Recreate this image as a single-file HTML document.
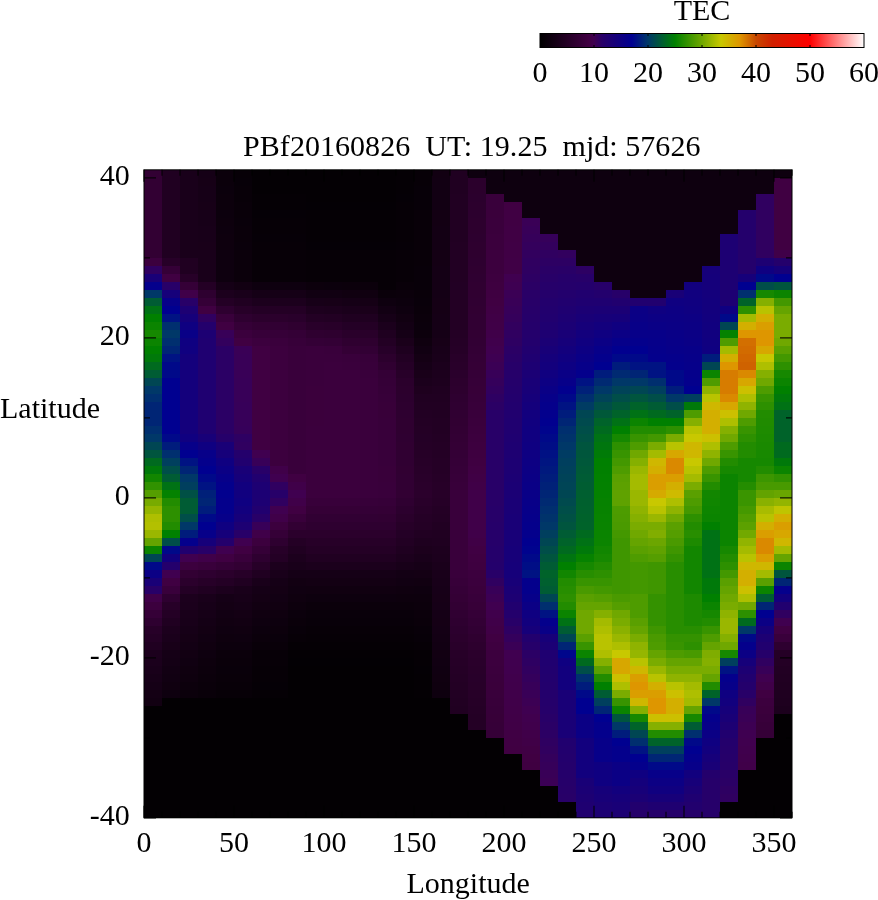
<!DOCTYPE html><html><head><meta charset="utf-8"><title>TEC map</title><style>html,body{margin:0;padding:0;background:#fff}svg{display:block}</style></head><body><svg width="878" height="900" viewBox="0 0 878 900"><defs><linearGradient id="cb" x1="0" x2="1" y1="0" y2="0"><stop offset="0.0000" stop-color="#000000"/><stop offset="0.1500" stop-color="#400042"/><stop offset="0.1667" stop-color="#400050"/><stop offset="0.1917" stop-color="#280068"/><stop offset="0.2833" stop-color="#000090"/><stop offset="0.3333" stop-color="#003868"/><stop offset="0.4167" stop-color="#008000"/><stop offset="0.5000" stop-color="#70a800"/><stop offset="0.5583" stop-color="#c8c800"/><stop offset="0.6167" stop-color="#de9600"/><stop offset="0.6667" stop-color="#c84800"/><stop offset="0.7167" stop-color="#d02000"/><stop offset="0.8333" stop-color="#ff0000"/><stop offset="1.0000" stop-color="#ffffff"/></linearGradient></defs><rect width="878" height="900" fill="#fff"/><g shape-rendering="crispEdges"><rect x="144" y="170" width="18" height="88" fill="#320033"/><rect x="144" y="258" width="18" height="8" fill="#3c003e"/><rect x="144" y="266" width="18" height="8" fill="#300060"/><rect x="144" y="274" width="18" height="8" fill="#190077"/><rect x="144" y="282" width="18" height="8" fill="#04008c"/><rect x="144" y="290" width="18" height="8" fill="#003868"/><rect x="144" y="298" width="18" height="8" fill="#005c34"/><rect x="144" y="306" width="18" height="8" fill="#007215"/><rect x="144" y="314" width="18" height="8" fill="#008000"/><rect x="144" y="322" width="18" height="8" fill="#0b8400"/><rect x="144" y="330" width="18" height="8" fill="#168800"/><rect x="144" y="338" width="18" height="8" fill="#0b8400"/><rect x="144" y="346" width="18" height="8" fill="#008000"/><rect x="144" y="354" width="18" height="8" fill="#00790a"/><rect x="144" y="362" width="18" height="8" fill="#006a1f"/><rect x="144" y="370" width="18" height="8" fill="#005c34"/><rect x="144" y="378" width="18" height="8" fill="#004653"/><rect x="144" y="386" width="18" height="8" fill="#003868"/><rect x="144" y="394" width="18" height="8" fill="#002f6f"/><rect x="144" y="402" width="18" height="24" fill="#002575"/><rect x="144" y="426" width="18" height="8" fill="#002f6f"/><rect x="144" y="434" width="18" height="8" fill="#003868"/><rect x="144" y="442" width="18" height="8" fill="#004653"/><rect x="144" y="450" width="18" height="8" fill="#00553e"/><rect x="144" y="458" width="18" height="8" fill="#006a1f"/><rect x="144" y="466" width="18" height="8" fill="#00790a"/><rect x="144" y="474" width="18" height="8" fill="#128600"/><rect x="144" y="482" width="18" height="8" fill="#319200"/><rect x="144" y="490" width="18" height="8" fill="#559e00"/><rect x="144" y="498" width="18" height="8" fill="#78ab00"/><rect x="144" y="506" width="18" height="8" fill="#95b600"/><rect x="144" y="514" width="18" height="8" fill="#aebf00"/><rect x="144" y="522" width="18" height="8" fill="#b3c000"/><rect x="144" y="530" width="18" height="8" fill="#9ab700"/><rect x="144" y="538" width="18" height="8" fill="#65a400"/><rect x="144" y="546" width="18" height="8" fill="#0b8400"/><rect x="144" y="554" width="18" height="8" fill="#004653"/><rect x="144" y="562" width="18" height="8" fill="#000989"/><rect x="144" y="570" width="18" height="8" fill="#0b0085"/><rect x="144" y="578" width="18" height="8" fill="#190077"/><rect x="144" y="586" width="18" height="8" fill="#280068"/><rect x="144" y="594" width="18" height="8" fill="#400049"/><rect x="144" y="602" width="18" height="8" fill="#3c003e"/><rect x="144" y="610" width="18" height="8" fill="#350037"/><rect x="144" y="618" width="18" height="8" fill="#2e0030"/><rect x="144" y="626" width="18" height="8" fill="#270028"/><rect x="144" y="634" width="18" height="8" fill="#240025"/><rect x="144" y="642" width="18" height="8" fill="#200021"/><rect x="144" y="650" width="18" height="8" fill="#1c001d"/><rect x="144" y="658" width="18" height="8" fill="#1b001c"/><rect x="144" y="666" width="18" height="8" fill="#19001a"/><rect x="144" y="674" width="18" height="8" fill="#170018"/><rect x="144" y="682" width="18" height="8" fill="#150016"/><rect x="144" y="690" width="18" height="8" fill="#140014"/><rect x="144" y="698" width="18" height="8" fill="#120012"/><rect x="144" y="706" width="18" height="112" fill="#030003"/><rect x="162" y="170" width="18" height="88" fill="#200021"/><rect x="162" y="258" width="18" height="8" fill="#270028"/><rect x="162" y="266" width="18" height="8" fill="#350037"/><rect x="162" y="274" width="18" height="8" fill="#400042"/><rect x="162" y="282" width="18" height="8" fill="#280068"/><rect x="162" y="290" width="18" height="8" fill="#16007a"/><rect x="162" y="298" width="18" height="8" fill="#070089"/><rect x="162" y="306" width="18" height="8" fill="#000090"/><rect x="162" y="314" width="18" height="8" fill="#001383"/><rect x="162" y="322" width="18" height="8" fill="#002f6f"/><rect x="162" y="330" width="18" height="8" fill="#003868"/><rect x="162" y="338" width="18" height="8" fill="#002f6f"/><rect x="162" y="346" width="18" height="8" fill="#002575"/><rect x="162" y="354" width="18" height="8" fill="#001383"/><rect x="162" y="362" width="18" height="16" fill="#000989"/><rect x="162" y="378" width="18" height="56" fill="#000090"/><rect x="162" y="434" width="18" height="8" fill="#000989"/><rect x="162" y="442" width="18" height="8" fill="#001c7c"/><rect x="162" y="450" width="18" height="8" fill="#002f6f"/><rect x="162" y="458" width="18" height="8" fill="#003f5e"/><rect x="162" y="466" width="18" height="8" fill="#004e49"/><rect x="162" y="474" width="18" height="8" fill="#005c34"/><rect x="162" y="482" width="18" height="8" fill="#007215"/><rect x="162" y="490" width="18" height="8" fill="#048200"/><rect x="162" y="498" width="18" height="8" fill="#228c00"/><rect x="162" y="506" width="18" height="16" fill="#2d9000"/><rect x="162" y="522" width="18" height="8" fill="#228c00"/><rect x="162" y="530" width="18" height="8" fill="#008000"/><rect x="162" y="538" width="18" height="8" fill="#004e49"/><rect x="162" y="546" width="18" height="8" fill="#000989"/><rect x="162" y="554" width="18" height="8" fill="#12007e"/><rect x="162" y="562" width="18" height="8" fill="#24006c"/><rect x="162" y="570" width="18" height="8" fill="#400050"/><rect x="162" y="578" width="18" height="8" fill="#400042"/><rect x="162" y="586" width="18" height="8" fill="#39003b"/><rect x="162" y="594" width="18" height="8" fill="#2e0030"/><rect x="162" y="602" width="18" height="8" fill="#270028"/><rect x="162" y="610" width="18" height="8" fill="#240025"/><rect x="162" y="618" width="18" height="8" fill="#200021"/><rect x="162" y="626" width="18" height="8" fill="#1c001d"/><rect x="162" y="634" width="18" height="8" fill="#1a001b"/><rect x="162" y="642" width="18" height="8" fill="#180018"/><rect x="162" y="650" width="18" height="8" fill="#150016"/><rect x="162" y="658" width="18" height="8" fill="#140015"/><rect x="162" y="666" width="18" height="8" fill="#120013"/><rect x="162" y="674" width="18" height="8" fill="#110012"/><rect x="162" y="682" width="18" height="8" fill="#100010"/><rect x="162" y="690" width="18" height="8" fill="#0e000f"/><rect x="162" y="698" width="18" height="120" fill="#030003"/><rect x="180" y="170" width="18" height="88" fill="#19001a"/><rect x="180" y="258" width="18" height="16" fill="#200021"/><rect x="180" y="274" width="18" height="8" fill="#270028"/><rect x="180" y="282" width="18" height="8" fill="#350037"/><rect x="180" y="290" width="18" height="8" fill="#400049"/><rect x="180" y="298" width="18" height="8" fill="#280068"/><rect x="180" y="306" width="18" height="8" fill="#1d0073"/><rect x="180" y="314" width="18" height="8" fill="#16007a"/><rect x="180" y="322" width="18" height="8" fill="#0f0081"/><rect x="180" y="330" width="18" height="8" fill="#090087"/><rect x="180" y="338" width="18" height="8" fill="#0f0081"/><rect x="180" y="346" width="18" height="8" fill="#100080"/><rect x="180" y="354" width="18" height="80" fill="#14007c"/><rect x="180" y="434" width="18" height="8" fill="#100080"/><rect x="180" y="442" width="18" height="8" fill="#070089"/><rect x="180" y="450" width="18" height="8" fill="#000090"/><rect x="180" y="458" width="18" height="8" fill="#001383"/><rect x="180" y="466" width="18" height="8" fill="#002575"/><rect x="180" y="474" width="18" height="8" fill="#003868"/><rect x="180" y="482" width="18" height="8" fill="#003f5e"/><rect x="180" y="490" width="18" height="8" fill="#005045"/><rect x="180" y="498" width="18" height="16" fill="#005c34"/><rect x="180" y="514" width="18" height="8" fill="#004e49"/><rect x="180" y="522" width="18" height="8" fill="#003868"/><rect x="180" y="530" width="18" height="8" fill="#001c7c"/><rect x="180" y="538" width="18" height="8" fill="#04008c"/><rect x="180" y="546" width="18" height="8" fill="#21006f"/><rect x="180" y="554" width="18" height="8" fill="#400050"/><rect x="180" y="562" width="18" height="8" fill="#3c003e"/><rect x="180" y="570" width="18" height="8" fill="#320033"/><rect x="180" y="578" width="18" height="8" fill="#2b002c"/><rect x="180" y="586" width="18" height="8" fill="#240025"/><rect x="180" y="594" width="18" height="8" fill="#1c001d"/><rect x="180" y="602" width="18" height="8" fill="#1b001c"/><rect x="180" y="610" width="18" height="8" fill="#19001a"/><rect x="180" y="618" width="18" height="8" fill="#180019"/><rect x="180" y="626" width="18" height="8" fill="#160017"/><rect x="180" y="634" width="18" height="8" fill="#150015"/><rect x="180" y="642" width="18" height="8" fill="#130014"/><rect x="180" y="650" width="18" height="8" fill="#120012"/><rect x="180" y="658" width="18" height="8" fill="#100011"/><rect x="180" y="666" width="18" height="8" fill="#0f000f"/><rect x="180" y="674" width="18" height="8" fill="#0e000e"/><rect x="180" y="682" width="18" height="8" fill="#0c000c"/><rect x="180" y="690" width="18" height="8" fill="#0b000b"/><rect x="180" y="698" width="18" height="120" fill="#030003"/><rect x="198" y="170" width="18" height="8" fill="#150016"/><rect x="198" y="178" width="18" height="8" fill="#160016"/><rect x="198" y="186" width="18" height="16" fill="#160017"/><rect x="198" y="202" width="18" height="8" fill="#170017"/><rect x="198" y="210" width="18" height="16" fill="#170018"/><rect x="198" y="226" width="18" height="16" fill="#180019"/><rect x="198" y="242" width="18" height="8" fill="#190019"/><rect x="198" y="250" width="18" height="32" fill="#19001a"/><rect x="198" y="282" width="18" height="8" fill="#240025"/><rect x="198" y="290" width="18" height="8" fill="#2e0030"/><rect x="198" y="298" width="18" height="8" fill="#350037"/><rect x="198" y="306" width="18" height="8" fill="#400042"/><rect x="198" y="314" width="18" height="8" fill="#300060"/><rect x="198" y="322" width="18" height="8" fill="#24006c"/><rect x="198" y="330" width="18" height="8" fill="#1d0073"/><rect x="198" y="338" width="18" height="96" fill="#1f0071"/><rect x="198" y="434" width="18" height="8" fill="#180078"/><rect x="198" y="442" width="18" height="8" fill="#0f0081"/><rect x="198" y="450" width="18" height="8" fill="#070089"/><rect x="198" y="458" width="18" height="8" fill="#04008c"/><rect x="198" y="466" width="18" height="8" fill="#000090"/><rect x="198" y="474" width="18" height="8" fill="#000989"/><rect x="198" y="482" width="18" height="8" fill="#001383"/><rect x="198" y="490" width="18" height="8" fill="#002079"/><rect x="198" y="498" width="18" height="8" fill="#002575"/><rect x="198" y="506" width="18" height="8" fill="#001c7c"/><rect x="198" y="514" width="18" height="8" fill="#000989"/><rect x="198" y="522" width="18" height="8" fill="#000090"/><rect x="198" y="530" width="18" height="8" fill="#070089"/><rect x="198" y="538" width="18" height="8" fill="#16007a"/><rect x="198" y="546" width="18" height="8" fill="#280068"/><rect x="198" y="554" width="18" height="8" fill="#400049"/><rect x="198" y="562" width="18" height="8" fill="#39003b"/><rect x="198" y="570" width="18" height="8" fill="#2e0030"/><rect x="198" y="578" width="18" height="8" fill="#270028"/><rect x="198" y="586" width="18" height="8" fill="#200021"/><rect x="198" y="594" width="18" height="8" fill="#19001a"/><rect x="198" y="602" width="18" height="8" fill="#170018"/><rect x="198" y="610" width="18" height="8" fill="#160017"/><rect x="198" y="618" width="18" height="8" fill="#140015"/><rect x="198" y="626" width="18" height="8" fill="#130013"/><rect x="198" y="634" width="18" height="8" fill="#110012"/><rect x="198" y="642" width="18" height="8" fill="#100010"/><rect x="198" y="650" width="18" height="8" fill="#0e000f"/><rect x="198" y="658" width="18" height="8" fill="#0d000d"/><rect x="198" y="666" width="18" height="8" fill="#0c000c"/><rect x="198" y="674" width="18" height="8" fill="#0b000b"/><rect x="198" y="682" width="18" height="8" fill="#0a000a"/><rect x="198" y="690" width="18" height="8" fill="#090009"/><rect x="198" y="698" width="18" height="120" fill="#030003"/><rect x="216" y="170" width="18" height="16" fill="#0b000b"/><rect x="216" y="186" width="18" height="8" fill="#0b000c"/><rect x="216" y="194" width="18" height="16" fill="#0c000c"/><rect x="216" y="210" width="18" height="8" fill="#0c000d"/><rect x="216" y="218" width="18" height="8" fill="#0d000d"/><rect x="216" y="226" width="18" height="8" fill="#0d000e"/><rect x="216" y="234" width="18" height="16" fill="#0e000e"/><rect x="216" y="250" width="18" height="32" fill="#0e000f"/><rect x="216" y="282" width="18" height="8" fill="#150016"/><rect x="216" y="290" width="18" height="8" fill="#1c001d"/><rect x="216" y="298" width="18" height="8" fill="#240025"/><rect x="216" y="306" width="18" height="8" fill="#2e0030"/><rect x="216" y="314" width="18" height="8" fill="#39003b"/><rect x="216" y="322" width="18" height="8" fill="#400042"/><rect x="216" y="330" width="18" height="8" fill="#380058"/><rect x="216" y="338" width="18" height="8" fill="#33005d"/><rect x="216" y="346" width="18" height="88" fill="#2b0065"/><rect x="216" y="434" width="18" height="8" fill="#26006a"/><rect x="216" y="442" width="18" height="8" fill="#190077"/><rect x="216" y="450" width="18" height="8" fill="#16007a"/><rect x="216" y="458" width="18" height="8" fill="#0f0081"/><rect x="216" y="466" width="18" height="8" fill="#0b0085"/><rect x="216" y="474" width="18" height="8" fill="#070089"/><rect x="216" y="482" width="18" height="8" fill="#04008c"/><rect x="216" y="490" width="18" height="8" fill="#02008e"/><rect x="216" y="498" width="18" height="16" fill="#04008c"/><rect x="216" y="514" width="18" height="8" fill="#070089"/><rect x="216" y="522" width="18" height="8" fill="#0f0081"/><rect x="216" y="530" width="18" height="8" fill="#16007a"/><rect x="216" y="538" width="18" height="8" fill="#24006c"/><rect x="216" y="546" width="18" height="8" fill="#400050"/><rect x="216" y="554" width="18" height="8" fill="#400042"/><rect x="216" y="562" width="18" height="8" fill="#350037"/><rect x="216" y="570" width="18" height="8" fill="#2b002c"/><rect x="216" y="578" width="18" height="8" fill="#240025"/><rect x="216" y="586" width="18" height="8" fill="#1c001d"/><rect x="216" y="594" width="18" height="8" fill="#150016"/><rect x="216" y="602" width="18" height="8" fill="#140014"/><rect x="216" y="610" width="18" height="8" fill="#120013"/><rect x="216" y="618" width="18" height="8" fill="#110011"/><rect x="216" y="626" width="18" height="8" fill="#0f0010"/><rect x="216" y="634" width="18" height="8" fill="#0e000e"/><rect x="216" y="642" width="18" height="8" fill="#0c000d"/><rect x="216" y="650" width="18" height="8" fill="#0b000b"/><rect x="216" y="658" width="18" height="8" fill="#0a000a"/><rect x="216" y="666" width="18" height="8" fill="#09000a"/><rect x="216" y="674" width="18" height="8" fill="#090009"/><rect x="216" y="682" width="18" height="8" fill="#080008"/><rect x="216" y="690" width="18" height="8" fill="#070007"/><rect x="216" y="698" width="18" height="120" fill="#030003"/><rect x="234" y="170" width="18" height="8" fill="#070007"/><rect x="234" y="178" width="18" height="8" fill="#070008"/><rect x="234" y="186" width="18" height="16" fill="#080008"/><rect x="234" y="202" width="18" height="16" fill="#090009"/><rect x="234" y="218" width="18" height="8" fill="#09000a"/><rect x="234" y="226" width="18" height="16" fill="#0a000a"/><rect x="234" y="242" width="18" height="8" fill="#0a000b"/><rect x="234" y="250" width="18" height="32" fill="#0b000b"/><rect x="234" y="282" width="18" height="8" fill="#120012"/><rect x="234" y="290" width="18" height="8" fill="#19001a"/><rect x="234" y="298" width="18" height="8" fill="#200021"/><rect x="234" y="306" width="18" height="8" fill="#270028"/><rect x="234" y="314" width="18" height="8" fill="#2e0030"/><rect x="234" y="322" width="18" height="8" fill="#350037"/><rect x="234" y="330" width="18" height="8" fill="#3b003d"/><rect x="234" y="338" width="18" height="8" fill="#400042"/><rect x="234" y="346" width="18" height="8" fill="#3a0056"/><rect x="234" y="354" width="18" height="24" fill="#390057"/><rect x="234" y="378" width="18" height="24" fill="#380058"/><rect x="234" y="402" width="18" height="24" fill="#370059"/><rect x="234" y="426" width="18" height="8" fill="#36005a"/><rect x="234" y="434" width="18" height="8" fill="#2e0062"/><rect x="234" y="442" width="18" height="8" fill="#300060"/><rect x="234" y="450" width="18" height="8" fill="#24006c"/><rect x="234" y="458" width="18" height="8" fill="#21006f"/><rect x="234" y="466" width="18" height="8" fill="#190077"/><rect x="234" y="474" width="18" height="8" fill="#16007a"/><rect x="234" y="482" width="18" height="8" fill="#12007e"/><rect x="234" y="490" width="18" height="8" fill="#11007f"/><rect x="234" y="498" width="18" height="8" fill="#0f0081"/><rect x="234" y="506" width="18" height="8" fill="#12007e"/><rect x="234" y="514" width="18" height="8" fill="#16007a"/><rect x="234" y="522" width="18" height="8" fill="#1d0073"/><rect x="234" y="530" width="18" height="8" fill="#280068"/><rect x="234" y="538" width="18" height="8" fill="#400050"/><rect x="234" y="546" width="18" height="8" fill="#400042"/><rect x="234" y="554" width="18" height="8" fill="#39003b"/><rect x="234" y="562" width="18" height="8" fill="#320033"/><rect x="234" y="570" width="18" height="8" fill="#270028"/><rect x="234" y="578" width="18" height="8" fill="#200021"/><rect x="234" y="586" width="18" height="8" fill="#19001a"/><rect x="234" y="594" width="18" height="8" fill="#170018"/><rect x="234" y="602" width="18" height="8" fill="#150016"/><rect x="234" y="610" width="18" height="8" fill="#140014"/><rect x="234" y="618" width="18" height="8" fill="#120012"/><rect x="234" y="626" width="18" height="8" fill="#100010"/><rect x="234" y="634" width="18" height="8" fill="#0e000f"/><rect x="234" y="642" width="18" height="8" fill="#0c000d"/><rect x="234" y="650" width="18" height="8" fill="#0b000b"/><rect x="234" y="658" width="18" height="8" fill="#0a000a"/><rect x="234" y="666" width="18" height="8" fill="#09000a"/><rect x="234" y="674" width="18" height="8" fill="#090009"/><rect x="234" y="682" width="18" height="8" fill="#080008"/><rect x="234" y="690" width="18" height="8" fill="#070007"/><rect x="234" y="698" width="18" height="120" fill="#030003"/><rect x="252" y="170" width="18" height="24" fill="#040004"/><rect x="252" y="194" width="18" height="16" fill="#050005"/><rect x="252" y="210" width="18" height="8" fill="#050006"/><rect x="252" y="218" width="18" height="16" fill="#060006"/><rect x="252" y="234" width="18" height="8" fill="#060007"/><rect x="252" y="242" width="18" height="40" fill="#070007"/><rect x="252" y="282" width="18" height="8" fill="#0e000f"/><rect x="252" y="290" width="18" height="8" fill="#150016"/><rect x="252" y="298" width="18" height="8" fill="#1c001d"/><rect x="252" y="306" width="18" height="8" fill="#240025"/><rect x="252" y="314" width="18" height="8" fill="#2b002c"/><rect x="252" y="322" width="18" height="8" fill="#320033"/><rect x="252" y="330" width="18" height="8" fill="#370039"/><rect x="252" y="338" width="18" height="8" fill="#3c003e"/><rect x="252" y="346" width="18" height="104" fill="#400042"/><rect x="252" y="450" width="18" height="8" fill="#400050"/><rect x="252" y="458" width="18" height="8" fill="#380058"/><rect x="252" y="466" width="18" height="8" fill="#280068"/><rect x="252" y="474" width="18" height="8" fill="#21006f"/><rect x="252" y="482" width="18" height="8" fill="#1d0073"/><rect x="252" y="490" width="18" height="8" fill="#1c0074"/><rect x="252" y="498" width="18" height="8" fill="#1d0073"/><rect x="252" y="506" width="18" height="8" fill="#21006f"/><rect x="252" y="514" width="18" height="8" fill="#280068"/><rect x="252" y="522" width="18" height="8" fill="#380058"/><rect x="252" y="530" width="18" height="8" fill="#400049"/><rect x="252" y="538" width="18" height="8" fill="#3c003e"/><rect x="252" y="546" width="18" height="8" fill="#350037"/><rect x="252" y="554" width="18" height="8" fill="#2e0030"/><rect x="252" y="562" width="18" height="8" fill="#270028"/><rect x="252" y="570" width="18" height="8" fill="#200021"/><rect x="252" y="578" width="18" height="8" fill="#19001a"/><rect x="252" y="586" width="18" height="8" fill="#150016"/><rect x="252" y="594" width="18" height="8" fill="#140014"/><rect x="252" y="602" width="18" height="8" fill="#120012"/><rect x="252" y="610" width="18" height="8" fill="#100010"/><rect x="252" y="618" width="18" height="8" fill="#0e000f"/><rect x="252" y="626" width="18" height="8" fill="#0c000d"/><rect x="252" y="634" width="18" height="8" fill="#0b000b"/><rect x="252" y="642" width="18" height="8" fill="#090009"/><rect x="252" y="650" width="18" height="16" fill="#070007"/><rect x="252" y="666" width="18" height="16" fill="#060006"/><rect x="252" y="682" width="18" height="8" fill="#050006"/><rect x="252" y="690" width="18" height="8" fill="#050005"/><rect x="252" y="698" width="18" height="120" fill="#030003"/><rect x="270" y="170" width="18" height="24" fill="#040004"/><rect x="270" y="194" width="18" height="16" fill="#050005"/><rect x="270" y="210" width="18" height="8" fill="#050006"/><rect x="270" y="218" width="18" height="16" fill="#060006"/><rect x="270" y="234" width="18" height="8" fill="#060007"/><rect x="270" y="242" width="18" height="40" fill="#070007"/><rect x="270" y="282" width="18" height="8" fill="#0e000f"/><rect x="270" y="290" width="18" height="8" fill="#150016"/><rect x="270" y="298" width="18" height="8" fill="#1c001d"/><rect x="270" y="306" width="18" height="8" fill="#240025"/><rect x="270" y="314" width="18" height="8" fill="#2b002c"/><rect x="270" y="322" width="18" height="8" fill="#310033"/><rect x="270" y="330" width="18" height="8" fill="#360038"/><rect x="270" y="338" width="18" height="8" fill="#3a003c"/><rect x="270" y="346" width="18" height="120" fill="#3c003e"/><rect x="270" y="466" width="18" height="8" fill="#400049"/><rect x="270" y="474" width="18" height="8" fill="#400050"/><rect x="270" y="482" width="18" height="8" fill="#300060"/><rect x="270" y="490" width="18" height="8" fill="#270069"/><rect x="270" y="498" width="18" height="8" fill="#300060"/><rect x="270" y="506" width="18" height="8" fill="#400050"/><rect x="270" y="514" width="18" height="8" fill="#400049"/><rect x="270" y="522" width="18" height="8" fill="#3c003e"/><rect x="270" y="530" width="18" height="8" fill="#350037"/><rect x="270" y="538" width="18" height="8" fill="#2e0030"/><rect x="270" y="546" width="18" height="8" fill="#270028"/><rect x="270" y="554" width="18" height="8" fill="#240025"/><rect x="270" y="562" width="18" height="8" fill="#1c001d"/><rect x="270" y="570" width="18" height="8" fill="#19001a"/><rect x="270" y="578" width="18" height="8" fill="#150016"/><rect x="270" y="586" width="18" height="8" fill="#140014"/><rect x="270" y="594" width="18" height="8" fill="#120013"/><rect x="270" y="602" width="18" height="8" fill="#110011"/><rect x="270" y="610" width="18" height="8" fill="#0f000f"/><rect x="270" y="618" width="18" height="8" fill="#0d000e"/><rect x="270" y="626" width="18" height="8" fill="#0c000c"/><rect x="270" y="634" width="18" height="8" fill="#0a000b"/><rect x="270" y="642" width="18" height="8" fill="#090009"/><rect x="270" y="650" width="18" height="16" fill="#070007"/><rect x="270" y="666" width="18" height="16" fill="#060006"/><rect x="270" y="682" width="18" height="8" fill="#050006"/><rect x="270" y="690" width="18" height="8" fill="#050005"/><rect x="270" y="698" width="18" height="120" fill="#030003"/><rect x="288" y="170" width="18" height="24" fill="#040004"/><rect x="288" y="194" width="18" height="16" fill="#050005"/><rect x="288" y="210" width="18" height="8" fill="#050006"/><rect x="288" y="218" width="18" height="16" fill="#060006"/><rect x="288" y="234" width="18" height="8" fill="#060007"/><rect x="288" y="242" width="18" height="40" fill="#070007"/><rect x="288" y="282" width="18" height="8" fill="#0e000f"/><rect x="288" y="290" width="18" height="8" fill="#150016"/><rect x="288" y="298" width="18" height="8" fill="#1c001d"/><rect x="288" y="306" width="18" height="8" fill="#240025"/><rect x="288" y="314" width="18" height="8" fill="#29002b"/><rect x="288" y="322" width="18" height="8" fill="#2f0030"/><rect x="288" y="330" width="18" height="8" fill="#340036"/><rect x="288" y="338" width="18" height="8" fill="#370039"/><rect x="288" y="346" width="18" height="128" fill="#39003b"/><rect x="288" y="474" width="18" height="8" fill="#400042"/><rect x="288" y="482" width="18" height="8" fill="#400049"/><rect x="288" y="490" width="18" height="8" fill="#400050"/><rect x="288" y="498" width="18" height="8" fill="#400049"/><rect x="288" y="506" width="18" height="8" fill="#400042"/><rect x="288" y="514" width="18" height="8" fill="#39003b"/><rect x="288" y="522" width="18" height="8" fill="#320033"/><rect x="288" y="530" width="18" height="8" fill="#2b002c"/><rect x="288" y="538" width="18" height="8" fill="#240025"/><rect x="288" y="546" width="18" height="8" fill="#200021"/><rect x="288" y="554" width="18" height="8" fill="#1c001d"/><rect x="288" y="562" width="18" height="8" fill="#19001a"/><rect x="288" y="570" width="18" height="8" fill="#150016"/><rect x="288" y="578" width="18" height="8" fill="#120012"/><rect x="288" y="586" width="18" height="8" fill="#100011"/><rect x="288" y="594" width="18" height="8" fill="#0f000f"/><rect x="288" y="602" width="18" height="8" fill="#0d000d"/><rect x="288" y="610" width="18" height="8" fill="#0b000c"/><rect x="288" y="618" width="18" height="8" fill="#0a000a"/><rect x="288" y="626" width="18" height="8" fill="#080009"/><rect x="288" y="634" width="18" height="8" fill="#070007"/><rect x="288" y="642" width="18" height="8" fill="#050005"/><rect x="288" y="650" width="18" height="8" fill="#040004"/><rect x="288" y="658" width="18" height="8" fill="#030004"/><rect x="288" y="666" width="18" height="152" fill="#030003"/><rect x="306" y="170" width="18" height="32" fill="#040004"/><rect x="306" y="202" width="18" height="8" fill="#040005"/><rect x="306" y="210" width="18" height="32" fill="#050005"/><rect x="306" y="242" width="18" height="8" fill="#050006"/><rect x="306" y="250" width="18" height="32" fill="#060006"/><rect x="306" y="282" width="18" height="8" fill="#0c000c"/><rect x="306" y="290" width="18" height="8" fill="#110012"/><rect x="306" y="298" width="18" height="8" fill="#170018"/><rect x="306" y="306" width="18" height="8" fill="#1d001e"/><rect x="306" y="314" width="18" height="8" fill="#230024"/><rect x="306" y="322" width="18" height="8" fill="#29002a"/><rect x="306" y="330" width="18" height="8" fill="#2f0030"/><rect x="306" y="338" width="18" height="8" fill="#340036"/><rect x="306" y="346" width="18" height="40" fill="#3a003c"/><rect x="306" y="386" width="18" height="40" fill="#3b003c"/><rect x="306" y="426" width="18" height="72" fill="#3b003d"/><rect x="306" y="498" width="18" height="8" fill="#38003a"/><rect x="306" y="506" width="18" height="8" fill="#350036"/><rect x="306" y="514" width="18" height="8" fill="#310033"/><rect x="306" y="522" width="18" height="8" fill="#2e0030"/><rect x="306" y="530" width="18" height="8" fill="#2b002c"/><rect x="306" y="538" width="18" height="8" fill="#270028"/><rect x="306" y="546" width="18" height="8" fill="#240025"/><rect x="306" y="554" width="18" height="8" fill="#200021"/><rect x="306" y="562" width="18" height="8" fill="#1b001c"/><rect x="306" y="570" width="18" height="8" fill="#150016"/><rect x="306" y="578" width="18" height="8" fill="#130013"/><rect x="306" y="586" width="18" height="8" fill="#100010"/><rect x="306" y="594" width="18" height="8" fill="#0d000e"/><rect x="306" y="602" width="18" height="8" fill="#0b000b"/><rect x="306" y="610" width="18" height="8" fill="#09000a"/><rect x="306" y="618" width="18" height="8" fill="#080009"/><rect x="306" y="626" width="18" height="8" fill="#070007"/><rect x="306" y="634" width="18" height="8" fill="#060006"/><rect x="306" y="642" width="18" height="8" fill="#050005"/><rect x="306" y="650" width="18" height="8" fill="#040004"/><rect x="306" y="658" width="18" height="8" fill="#030004"/><rect x="306" y="666" width="18" height="152" fill="#030003"/><rect x="324" y="170" width="18" height="32" fill="#040004"/><rect x="324" y="202" width="18" height="8" fill="#040005"/><rect x="324" y="210" width="18" height="32" fill="#050005"/><rect x="324" y="242" width="18" height="8" fill="#050006"/><rect x="324" y="250" width="18" height="32" fill="#060006"/><rect x="324" y="282" width="18" height="8" fill="#0b000c"/><rect x="324" y="290" width="18" height="8" fill="#110012"/><rect x="324" y="298" width="18" height="8" fill="#170017"/><rect x="324" y="306" width="18" height="8" fill="#1c001d"/><rect x="324" y="314" width="18" height="8" fill="#220023"/><rect x="324" y="322" width="18" height="8" fill="#280029"/><rect x="324" y="330" width="18" height="8" fill="#2e002f"/><rect x="324" y="338" width="18" height="8" fill="#330035"/><rect x="324" y="346" width="18" height="8" fill="#39003b"/><rect x="324" y="354" width="18" height="8" fill="#3a003c"/><rect x="324" y="362" width="18" height="136" fill="#3b003d"/><rect x="324" y="498" width="18" height="8" fill="#38003a"/><rect x="324" y="506" width="18" height="8" fill="#350036"/><rect x="324" y="514" width="18" height="8" fill="#310033"/><rect x="324" y="522" width="18" height="8" fill="#2e0030"/><rect x="324" y="530" width="18" height="8" fill="#2b002c"/><rect x="324" y="538" width="18" height="8" fill="#270028"/><rect x="324" y="546" width="18" height="8" fill="#240025"/><rect x="324" y="554" width="18" height="8" fill="#200021"/><rect x="324" y="562" width="18" height="8" fill="#1b001c"/><rect x="324" y="570" width="18" height="8" fill="#150016"/><rect x="324" y="578" width="18" height="8" fill="#130013"/><rect x="324" y="586" width="18" height="8" fill="#100010"/><rect x="324" y="594" width="18" height="8" fill="#0d000e"/><rect x="324" y="602" width="18" height="8" fill="#0b000b"/><rect x="324" y="610" width="18" height="8" fill="#09000a"/><rect x="324" y="618" width="18" height="8" fill="#080009"/><rect x="324" y="626" width="18" height="8" fill="#070007"/><rect x="324" y="634" width="18" height="8" fill="#060006"/><rect x="324" y="642" width="18" height="8" fill="#050005"/><rect x="324" y="650" width="18" height="8" fill="#040004"/><rect x="324" y="658" width="18" height="8" fill="#030004"/><rect x="324" y="666" width="18" height="152" fill="#030003"/><rect x="342" y="170" width="18" height="32" fill="#040004"/><rect x="342" y="202" width="18" height="8" fill="#040005"/><rect x="342" y="210" width="18" height="32" fill="#050005"/><rect x="342" y="242" width="18" height="8" fill="#050006"/><rect x="342" y="250" width="18" height="32" fill="#060006"/><rect x="342" y="282" width="18" height="8" fill="#0b000b"/><rect x="342" y="290" width="18" height="8" fill="#100010"/><rect x="342" y="298" width="18" height="8" fill="#150016"/><rect x="342" y="306" width="18" height="8" fill="#1a001b"/><rect x="342" y="314" width="18" height="8" fill="#1f0020"/><rect x="342" y="322" width="18" height="8" fill="#240026"/><rect x="342" y="330" width="18" height="8" fill="#2a002b"/><rect x="342" y="338" width="18" height="8" fill="#2f0030"/><rect x="342" y="346" width="18" height="8" fill="#340035"/><rect x="342" y="354" width="18" height="8" fill="#39003b"/><rect x="342" y="362" width="18" height="8" fill="#3a003c"/><rect x="342" y="370" width="18" height="128" fill="#3b003d"/><rect x="342" y="498" width="18" height="8" fill="#38003a"/><rect x="342" y="506" width="18" height="8" fill="#350036"/><rect x="342" y="514" width="18" height="8" fill="#310033"/><rect x="342" y="522" width="18" height="8" fill="#2e0030"/><rect x="342" y="530" width="18" height="8" fill="#2b002c"/><rect x="342" y="538" width="18" height="8" fill="#270028"/><rect x="342" y="546" width="18" height="8" fill="#240025"/><rect x="342" y="554" width="18" height="8" fill="#200021"/><rect x="342" y="562" width="18" height="8" fill="#1b001c"/><rect x="342" y="570" width="18" height="8" fill="#150016"/><rect x="342" y="578" width="18" height="8" fill="#130013"/><rect x="342" y="586" width="18" height="8" fill="#100010"/><rect x="342" y="594" width="18" height="8" fill="#0d000e"/><rect x="342" y="602" width="18" height="8" fill="#0b000b"/><rect x="342" y="610" width="18" height="8" fill="#09000a"/><rect x="342" y="618" width="18" height="8" fill="#080009"/><rect x="342" y="626" width="18" height="8" fill="#070007"/><rect x="342" y="634" width="18" height="8" fill="#060006"/><rect x="342" y="642" width="18" height="8" fill="#050005"/><rect x="342" y="650" width="18" height="8" fill="#040004"/><rect x="342" y="658" width="18" height="8" fill="#030004"/><rect x="342" y="666" width="18" height="152" fill="#030003"/><rect x="360" y="170" width="18" height="32" fill="#040004"/><rect x="360" y="202" width="18" height="8" fill="#040005"/><rect x="360" y="210" width="18" height="32" fill="#050005"/><rect x="360" y="242" width="18" height="8" fill="#050006"/><rect x="360" y="250" width="18" height="32" fill="#060006"/><rect x="360" y="282" width="18" height="8" fill="#0b000b"/><rect x="360" y="290" width="18" height="8" fill="#100010"/><rect x="360" y="298" width="18" height="8" fill="#150015"/><rect x="360" y="306" width="18" height="8" fill="#1a001a"/><rect x="360" y="314" width="18" height="8" fill="#1f0020"/><rect x="360" y="322" width="18" height="8" fill="#240025"/><rect x="360" y="330" width="18" height="8" fill="#29002a"/><rect x="360" y="338" width="18" height="8" fill="#2e002f"/><rect x="360" y="346" width="18" height="8" fill="#320034"/><rect x="360" y="354" width="18" height="8" fill="#370039"/><rect x="360" y="362" width="18" height="8" fill="#38003a"/><rect x="360" y="370" width="18" height="8" fill="#39003b"/><rect x="360" y="378" width="18" height="120" fill="#3a003c"/><rect x="360" y="498" width="18" height="8" fill="#370039"/><rect x="360" y="506" width="18" height="8" fill="#340036"/><rect x="360" y="514" width="18" height="8" fill="#310033"/><rect x="360" y="522" width="18" height="8" fill="#2e0030"/><rect x="360" y="530" width="18" height="8" fill="#2b002c"/><rect x="360" y="538" width="18" height="8" fill="#270028"/><rect x="360" y="546" width="18" height="8" fill="#240025"/><rect x="360" y="554" width="18" height="8" fill="#200021"/><rect x="360" y="562" width="18" height="8" fill="#1b001c"/><rect x="360" y="570" width="18" height="8" fill="#150016"/><rect x="360" y="578" width="18" height="8" fill="#130013"/><rect x="360" y="586" width="18" height="8" fill="#100010"/><rect x="360" y="594" width="18" height="8" fill="#0d000e"/><rect x="360" y="602" width="18" height="8" fill="#0b000b"/><rect x="360" y="610" width="18" height="8" fill="#09000a"/><rect x="360" y="618" width="18" height="8" fill="#080009"/><rect x="360" y="626" width="18" height="8" fill="#070007"/><rect x="360" y="634" width="18" height="8" fill="#060006"/><rect x="360" y="642" width="18" height="8" fill="#050005"/><rect x="360" y="650" width="18" height="8" fill="#040004"/><rect x="360" y="658" width="18" height="8" fill="#030004"/><rect x="360" y="666" width="18" height="152" fill="#030003"/><rect x="378" y="170" width="18" height="32" fill="#040004"/><rect x="378" y="202" width="18" height="8" fill="#040005"/><rect x="378" y="210" width="18" height="32" fill="#050005"/><rect x="378" y="242" width="18" height="8" fill="#050006"/><rect x="378" y="250" width="18" height="40" fill="#060006"/><rect x="378" y="290" width="18" height="8" fill="#0a000a"/><rect x="378" y="298" width="18" height="8" fill="#0e000f"/><rect x="378" y="306" width="18" height="8" fill="#120013"/><rect x="378" y="314" width="18" height="8" fill="#160017"/><rect x="378" y="322" width="18" height="8" fill="#1b001c"/><rect x="378" y="330" width="18" height="8" fill="#1f0020"/><rect x="378" y="338" width="18" height="8" fill="#230024"/><rect x="378" y="346" width="18" height="8" fill="#270029"/><rect x="378" y="354" width="18" height="8" fill="#2c002d"/><rect x="378" y="362" width="18" height="8" fill="#300031"/><rect x="378" y="370" width="18" height="8" fill="#340036"/><rect x="378" y="378" width="18" height="8" fill="#350037"/><rect x="378" y="386" width="18" height="8" fill="#360038"/><rect x="378" y="394" width="18" height="8" fill="#370039"/><rect x="378" y="402" width="18" height="16" fill="#380039"/><rect x="378" y="418" width="18" height="48" fill="#38003a"/><rect x="378" y="466" width="18" height="16" fill="#39003a"/><rect x="378" y="482" width="18" height="16" fill="#39003b"/><rect x="378" y="498" width="18" height="8" fill="#360038"/><rect x="378" y="506" width="18" height="8" fill="#340035"/><rect x="378" y="514" width="18" height="8" fill="#310032"/><rect x="378" y="522" width="18" height="8" fill="#2e0030"/><rect x="378" y="530" width="18" height="8" fill="#2b002c"/><rect x="378" y="538" width="18" height="8" fill="#270028"/><rect x="378" y="546" width="18" height="8" fill="#240025"/><rect x="378" y="554" width="18" height="8" fill="#200021"/><rect x="378" y="562" width="18" height="8" fill="#1b001c"/><rect x="378" y="570" width="18" height="8" fill="#150016"/><rect x="378" y="578" width="18" height="8" fill="#130013"/><rect x="378" y="586" width="18" height="8" fill="#100010"/><rect x="378" y="594" width="18" height="8" fill="#0d000e"/><rect x="378" y="602" width="18" height="8" fill="#0b000b"/><rect x="378" y="610" width="18" height="8" fill="#09000a"/><rect x="378" y="618" width="18" height="8" fill="#080009"/><rect x="378" y="626" width="18" height="8" fill="#070007"/><rect x="378" y="634" width="18" height="8" fill="#060006"/><rect x="378" y="642" width="18" height="8" fill="#050005"/><rect x="378" y="650" width="18" height="8" fill="#040004"/><rect x="378" y="658" width="18" height="8" fill="#030004"/><rect x="378" y="666" width="18" height="152" fill="#030003"/><rect x="396" y="170" width="18" height="24" fill="#050005"/><rect x="396" y="194" width="18" height="8" fill="#050006"/><rect x="396" y="202" width="18" height="40" fill="#060006"/><rect x="396" y="242" width="18" height="8" fill="#060007"/><rect x="396" y="250" width="18" height="32" fill="#070007"/><rect x="396" y="282" width="18" height="8" fill="#090009"/><rect x="396" y="290" width="18" height="8" fill="#0b000b"/><rect x="396" y="298" width="18" height="8" fill="#0c000d"/><rect x="396" y="306" width="18" height="8" fill="#0e000f"/><rect x="396" y="314" width="18" height="8" fill="#110011"/><rect x="396" y="322" width="18" height="8" fill="#130014"/><rect x="396" y="330" width="18" height="8" fill="#150016"/><rect x="396" y="338" width="18" height="8" fill="#1a001a"/><rect x="396" y="346" width="18" height="8" fill="#1e001f"/><rect x="396" y="354" width="18" height="8" fill="#220023"/><rect x="396" y="362" width="18" height="8" fill="#250026"/><rect x="396" y="370" width="18" height="8" fill="#280029"/><rect x="396" y="378" width="18" height="8" fill="#2b002c"/><rect x="396" y="386" width="18" height="8" fill="#2c002d"/><rect x="396" y="394" width="18" height="8" fill="#2c002e"/><rect x="396" y="402" width="18" height="8" fill="#2d002f"/><rect x="396" y="410" width="18" height="8" fill="#2e0030"/><rect x="396" y="418" width="18" height="16" fill="#2f0030"/><rect x="396" y="434" width="18" height="8" fill="#2f0031"/><rect x="396" y="442" width="18" height="8" fill="#300031"/><rect x="396" y="450" width="18" height="16" fill="#300032"/><rect x="396" y="466" width="18" height="8" fill="#310032"/><rect x="396" y="474" width="18" height="16" fill="#310033"/><rect x="396" y="490" width="18" height="8" fill="#320033"/><rect x="396" y="498" width="18" height="8" fill="#2f0031"/><rect x="396" y="506" width="18" height="8" fill="#2c002e"/><rect x="396" y="514" width="18" height="8" fill="#2a002b"/><rect x="396" y="522" width="18" height="8" fill="#270028"/><rect x="396" y="530" width="18" height="8" fill="#240026"/><rect x="396" y="538" width="18" height="8" fill="#220023"/><rect x="396" y="546" width="18" height="8" fill="#1f0020"/><rect x="396" y="554" width="18" height="8" fill="#1c001d"/><rect x="396" y="562" width="18" height="8" fill="#180019"/><rect x="396" y="570" width="18" height="8" fill="#130014"/><rect x="396" y="578" width="18" height="8" fill="#110012"/><rect x="396" y="586" width="18" height="8" fill="#0f000f"/><rect x="396" y="594" width="18" height="8" fill="#0d000d"/><rect x="396" y="602" width="18" height="8" fill="#0b000b"/><rect x="396" y="610" width="18" height="8" fill="#09000a"/><rect x="396" y="618" width="18" height="8" fill="#080009"/><rect x="396" y="626" width="18" height="8" fill="#070007"/><rect x="396" y="634" width="18" height="8" fill="#060006"/><rect x="396" y="642" width="18" height="8" fill="#050005"/><rect x="396" y="650" width="18" height="8" fill="#040004"/><rect x="396" y="658" width="18" height="8" fill="#030004"/><rect x="396" y="666" width="18" height="152" fill="#030003"/><rect x="414" y="170" width="18" height="16" fill="#070007"/><rect x="414" y="186" width="18" height="24" fill="#070008"/><rect x="414" y="210" width="18" height="56" fill="#080008"/><rect x="414" y="266" width="18" height="24" fill="#080009"/><rect x="414" y="290" width="18" height="8" fill="#090009"/><rect x="414" y="298" width="18" height="8" fill="#09000a"/><rect x="414" y="306" width="18" height="8" fill="#0a000a"/><rect x="414" y="314" width="18" height="8" fill="#0b000b"/><rect x="414" y="322" width="18" height="8" fill="#0b000c"/><rect x="414" y="330" width="18" height="8" fill="#0c000c"/><rect x="414" y="338" width="18" height="8" fill="#0f000f"/><rect x="414" y="346" width="18" height="8" fill="#110012"/><rect x="414" y="354" width="18" height="8" fill="#140014"/><rect x="414" y="362" width="18" height="8" fill="#160017"/><rect x="414" y="370" width="18" height="8" fill="#190019"/><rect x="414" y="378" width="18" height="8" fill="#1b001c"/><rect x="414" y="386" width="18" height="8" fill="#1e001e"/><rect x="414" y="394" width="18" height="8" fill="#200021"/><rect x="414" y="402" width="18" height="8" fill="#210022"/><rect x="414" y="410" width="18" height="8" fill="#220023"/><rect x="414" y="418" width="18" height="8" fill="#230024"/><rect x="414" y="426" width="18" height="8" fill="#240025"/><rect x="414" y="434" width="18" height="8" fill="#240026"/><rect x="414" y="442" width="18" height="8" fill="#250026"/><rect x="414" y="450" width="18" height="8" fill="#260027"/><rect x="414" y="458" width="18" height="8" fill="#270028"/><rect x="414" y="466" width="18" height="8" fill="#280029"/><rect x="414" y="474" width="18" height="8" fill="#29002a"/><rect x="414" y="482" width="18" height="8" fill="#2a002b"/><rect x="414" y="490" width="18" height="8" fill="#2b002c"/><rect x="414" y="498" width="18" height="8" fill="#29002a"/><rect x="414" y="506" width="18" height="8" fill="#270028"/><rect x="414" y="514" width="18" height="8" fill="#250026"/><rect x="414" y="522" width="18" height="8" fill="#240025"/><rect x="414" y="530" width="18" height="8" fill="#210022"/><rect x="414" y="538" width="18" height="8" fill="#1e001f"/><rect x="414" y="546" width="18" height="8" fill="#1c001c"/><rect x="414" y="554" width="18" height="8" fill="#19001a"/><rect x="414" y="562" width="18" height="8" fill="#160017"/><rect x="414" y="570" width="18" height="8" fill="#140014"/><rect x="414" y="578" width="18" height="8" fill="#110011"/><rect x="414" y="586" width="18" height="8" fill="#0e000f"/><rect x="414" y="594" width="18" height="8" fill="#0d000d"/><rect x="414" y="602" width="18" height="8" fill="#0c000c"/><rect x="414" y="610" width="18" height="8" fill="#0b000b"/><rect x="414" y="618" width="18" height="8" fill="#0a000a"/><rect x="414" y="626" width="18" height="8" fill="#080009"/><rect x="414" y="634" width="18" height="8" fill="#070008"/><rect x="414" y="642" width="18" height="8" fill="#060006"/><rect x="414" y="650" width="18" height="16" fill="#050005"/><rect x="414" y="666" width="18" height="8" fill="#040005"/><rect x="414" y="674" width="18" height="24" fill="#040004"/><rect x="414" y="698" width="18" height="120" fill="#030003"/><rect x="432" y="170" width="18" height="8" fill="#120012"/><rect x="432" y="178" width="18" height="32" fill="#120013"/><rect x="432" y="210" width="18" height="16" fill="#130013"/><rect x="432" y="226" width="18" height="24" fill="#130014"/><rect x="432" y="250" width="18" height="16" fill="#140014"/><rect x="432" y="266" width="18" height="32" fill="#140015"/><rect x="432" y="298" width="18" height="16" fill="#150015"/><rect x="432" y="314" width="18" height="24" fill="#150016"/><rect x="432" y="338" width="18" height="8" fill="#170017"/><rect x="432" y="346" width="18" height="8" fill="#180019"/><rect x="432" y="354" width="18" height="8" fill="#19001a"/><rect x="432" y="362" width="18" height="8" fill="#1b001c"/><rect x="432" y="370" width="18" height="8" fill="#1c001d"/><rect x="432" y="378" width="18" height="8" fill="#1d001e"/><rect x="432" y="386" width="18" height="8" fill="#1f0020"/><rect x="432" y="394" width="18" height="8" fill="#200021"/><rect x="432" y="402" width="18" height="16" fill="#210022"/><rect x="432" y="418" width="18" height="16" fill="#220023"/><rect x="432" y="434" width="18" height="8" fill="#230024"/><rect x="432" y="442" width="18" height="16" fill="#240025"/><rect x="432" y="458" width="18" height="16" fill="#250026"/><rect x="432" y="474" width="18" height="8" fill="#260027"/><rect x="432" y="482" width="18" height="16" fill="#270028"/><rect x="432" y="498" width="18" height="8" fill="#260027"/><rect x="432" y="506" width="18" height="8" fill="#240025"/><rect x="432" y="514" width="18" height="8" fill="#230024"/><rect x="432" y="522" width="18" height="8" fill="#210022"/><rect x="432" y="530" width="18" height="8" fill="#200021"/><rect x="432" y="538" width="18" height="8" fill="#1f0020"/><rect x="432" y="546" width="18" height="8" fill="#1d001e"/><rect x="432" y="554" width="18" height="8" fill="#1c001d"/><rect x="432" y="562" width="18" height="8" fill="#1a001b"/><rect x="432" y="570" width="18" height="8" fill="#19001a"/><rect x="432" y="578" width="18" height="8" fill="#180019"/><rect x="432" y="586" width="18" height="8" fill="#170018"/><rect x="432" y="594" width="18" height="8" fill="#170017"/><rect x="432" y="602" width="18" height="8" fill="#160017"/><rect x="432" y="610" width="18" height="8" fill="#150016"/><rect x="432" y="618" width="18" height="8" fill="#150015"/><rect x="432" y="626" width="18" height="8" fill="#140015"/><rect x="432" y="634" width="18" height="8" fill="#130014"/><rect x="432" y="642" width="18" height="8" fill="#120013"/><rect x="432" y="650" width="18" height="8" fill="#120012"/><rect x="432" y="658" width="18" height="8" fill="#110012"/><rect x="432" y="666" width="18" height="8" fill="#100011"/><rect x="432" y="674" width="18" height="8" fill="#100010"/><rect x="432" y="682" width="18" height="8" fill="#0f000f"/><rect x="432" y="690" width="18" height="8" fill="#0e000f"/><rect x="432" y="698" width="18" height="120" fill="#030003"/><rect x="450" y="170" width="18" height="24" fill="#200021"/><rect x="450" y="194" width="18" height="48" fill="#210022"/><rect x="450" y="242" width="18" height="40" fill="#220023"/><rect x="450" y="282" width="18" height="8" fill="#220024"/><rect x="450" y="290" width="18" height="40" fill="#230024"/><rect x="450" y="330" width="18" height="8" fill="#240025"/><rect x="450" y="338" width="18" height="8" fill="#250026"/><rect x="450" y="346" width="18" height="8" fill="#260027"/><rect x="450" y="354" width="18" height="8" fill="#280029"/><rect x="450" y="362" width="18" height="8" fill="#29002a"/><rect x="450" y="370" width="18" height="8" fill="#2a002c"/><rect x="450" y="378" width="18" height="8" fill="#2c002d"/><rect x="450" y="386" width="18" height="8" fill="#2d002e"/><rect x="450" y="394" width="18" height="8" fill="#2e0030"/><rect x="450" y="402" width="18" height="8" fill="#2f0031"/><rect x="450" y="410" width="18" height="8" fill="#300032"/><rect x="450" y="418" width="18" height="8" fill="#310032"/><rect x="450" y="426" width="18" height="8" fill="#320033"/><rect x="450" y="434" width="18" height="8" fill="#330034"/><rect x="450" y="442" width="18" height="8" fill="#340035"/><rect x="450" y="450" width="18" height="8" fill="#340036"/><rect x="450" y="458" width="18" height="8" fill="#350037"/><rect x="450" y="466" width="18" height="8" fill="#360038"/><rect x="450" y="474" width="18" height="8" fill="#370039"/><rect x="450" y="482" width="18" height="8" fill="#38003a"/><rect x="450" y="490" width="18" height="88" fill="#39003b"/><rect x="450" y="578" width="18" height="8" fill="#370039"/><rect x="450" y="586" width="18" height="8" fill="#350037"/><rect x="450" y="594" width="18" height="8" fill="#340035"/><rect x="450" y="602" width="18" height="8" fill="#320033"/><rect x="450" y="610" width="18" height="8" fill="#300032"/><rect x="450" y="618" width="18" height="8" fill="#2e0030"/><rect x="450" y="626" width="18" height="8" fill="#2c002e"/><rect x="450" y="634" width="18" height="8" fill="#2b002c"/><rect x="450" y="642" width="18" height="8" fill="#29002a"/><rect x="450" y="650" width="18" height="8" fill="#270028"/><rect x="450" y="658" width="18" height="8" fill="#260027"/><rect x="450" y="666" width="18" height="8" fill="#250026"/><rect x="450" y="674" width="18" height="8" fill="#240025"/><rect x="450" y="682" width="18" height="8" fill="#230024"/><rect x="450" y="690" width="18" height="8" fill="#220023"/><rect x="450" y="698" width="18" height="8" fill="#210022"/><rect x="450" y="706" width="18" height="8" fill="#200021"/><rect x="450" y="714" width="18" height="104" fill="#030003"/><rect x="468" y="170" width="18" height="8" fill="#0e000f"/><rect x="468" y="178" width="18" height="16" fill="#2b002c"/><rect x="468" y="194" width="18" height="8" fill="#2b002d"/><rect x="468" y="202" width="18" height="8" fill="#2c002d"/><rect x="468" y="210" width="18" height="8" fill="#2c002e"/><rect x="468" y="218" width="18" height="16" fill="#2d002e"/><rect x="468" y="234" width="18" height="8" fill="#2d002f"/><rect x="468" y="242" width="18" height="16" fill="#2e002f"/><rect x="468" y="258" width="18" height="8" fill="#2e0030"/><rect x="468" y="266" width="18" height="8" fill="#2f0030"/><rect x="468" y="274" width="18" height="8" fill="#2f0031"/><rect x="468" y="282" width="18" height="16" fill="#300031"/><rect x="468" y="298" width="18" height="8" fill="#300032"/><rect x="468" y="306" width="18" height="8" fill="#310032"/><rect x="468" y="314" width="18" height="16" fill="#310033"/><rect x="468" y="330" width="18" height="8" fill="#320033"/><rect x="468" y="338" width="18" height="8" fill="#320034"/><rect x="468" y="346" width="18" height="8" fill="#330035"/><rect x="468" y="354" width="18" height="8" fill="#340036"/><rect x="468" y="362" width="18" height="8" fill="#350036"/><rect x="468" y="370" width="18" height="8" fill="#350037"/><rect x="468" y="378" width="18" height="8" fill="#360038"/><rect x="468" y="386" width="18" height="8" fill="#370038"/><rect x="468" y="394" width="18" height="8" fill="#370039"/><rect x="468" y="402" width="18" height="8" fill="#38003a"/><rect x="468" y="410" width="18" height="8" fill="#39003b"/><rect x="468" y="418" width="18" height="8" fill="#3a003c"/><rect x="468" y="426" width="18" height="8" fill="#3b003d"/><rect x="468" y="434" width="18" height="8" fill="#3c003e"/><rect x="468" y="442" width="18" height="8" fill="#3d003f"/><rect x="468" y="450" width="18" height="8" fill="#3e0040"/><rect x="468" y="458" width="18" height="8" fill="#3f0041"/><rect x="468" y="466" width="18" height="8" fill="#400043"/><rect x="468" y="474" width="18" height="8" fill="#400045"/><rect x="468" y="482" width="18" height="8" fill="#400047"/><rect x="468" y="490" width="18" height="48" fill="#400049"/><rect x="468" y="538" width="18" height="8" fill="#400046"/><rect x="468" y="546" width="18" height="8" fill="#400043"/><rect x="468" y="554" width="18" height="8" fill="#3f0041"/><rect x="468" y="562" width="18" height="8" fill="#3e0040"/><rect x="468" y="570" width="18" height="8" fill="#3c003e"/><rect x="468" y="578" width="18" height="8" fill="#3b003d"/><rect x="468" y="586" width="18" height="8" fill="#3a003b"/><rect x="468" y="594" width="18" height="8" fill="#38003a"/><rect x="468" y="602" width="18" height="8" fill="#370038"/><rect x="468" y="610" width="18" height="8" fill="#350037"/><rect x="468" y="618" width="18" height="8" fill="#330035"/><rect x="468" y="626" width="18" height="8" fill="#310033"/><rect x="468" y="634" width="18" height="8" fill="#2f0030"/><rect x="468" y="642" width="18" height="8" fill="#2d002e"/><rect x="468" y="650" width="18" height="8" fill="#2b002c"/><rect x="468" y="658" width="18" height="8" fill="#2a002b"/><rect x="468" y="666" width="18" height="8" fill="#29002a"/><rect x="468" y="674" width="18" height="8" fill="#28002a"/><rect x="468" y="682" width="18" height="8" fill="#280029"/><rect x="468" y="690" width="18" height="8" fill="#270028"/><rect x="468" y="698" width="18" height="8" fill="#260027"/><rect x="468" y="706" width="18" height="8" fill="#250026"/><rect x="468" y="714" width="18" height="16" fill="#240025"/><rect x="468" y="730" width="18" height="88" fill="#030003"/><rect x="486" y="170" width="18" height="24" fill="#0e000f"/><rect x="486" y="194" width="18" height="16" fill="#39003b"/><rect x="486" y="210" width="18" height="8" fill="#3a003b"/><rect x="486" y="218" width="18" height="16" fill="#3a003c"/><rect x="486" y="234" width="18" height="16" fill="#3b003d"/><rect x="486" y="250" width="18" height="24" fill="#3c003e"/><rect x="486" y="274" width="18" height="8" fill="#3d003f"/><rect x="486" y="282" width="18" height="8" fill="#3e0040"/><rect x="486" y="290" width="18" height="8" fill="#3f0041"/><rect x="486" y="298" width="18" height="8" fill="#400042"/><rect x="486" y="306" width="18" height="8" fill="#400044"/><rect x="486" y="314" width="18" height="8" fill="#400046"/><rect x="486" y="322" width="18" height="8" fill="#400047"/><rect x="486" y="330" width="18" height="8" fill="#400049"/><rect x="486" y="338" width="18" height="8" fill="#40004c"/><rect x="486" y="346" width="18" height="8" fill="#40004f"/><rect x="486" y="354" width="18" height="8" fill="#3e0052"/><rect x="486" y="362" width="18" height="8" fill="#3b0055"/><rect x="486" y="370" width="18" height="8" fill="#380058"/><rect x="486" y="378" width="18" height="8" fill="#35005b"/><rect x="486" y="386" width="18" height="8" fill="#32005e"/><rect x="486" y="394" width="18" height="8" fill="#2e0062"/><rect x="486" y="402" width="18" height="8" fill="#2b0065"/><rect x="486" y="410" width="18" height="96" fill="#280068"/><rect x="486" y="506" width="18" height="16" fill="#270069"/><rect x="486" y="522" width="18" height="24" fill="#26006a"/><rect x="486" y="546" width="18" height="16" fill="#25006b"/><rect x="486" y="562" width="18" height="8" fill="#24006c"/><rect x="486" y="570" width="18" height="8" fill="#280068"/><rect x="486" y="578" width="18" height="8" fill="#300060"/><rect x="486" y="586" width="18" height="8" fill="#380058"/><rect x="486" y="594" width="18" height="8" fill="#3c0054"/><rect x="486" y="602" width="18" height="8" fill="#400050"/><rect x="486" y="610" width="18" height="8" fill="#40004c"/><rect x="486" y="618" width="18" height="8" fill="#400049"/><rect x="486" y="626" width="18" height="8" fill="#400046"/><rect x="486" y="634" width="18" height="8" fill="#400042"/><rect x="486" y="642" width="18" height="8" fill="#3e0040"/><rect x="486" y="650" width="18" height="16" fill="#3c003e"/><rect x="486" y="666" width="18" height="8" fill="#3b003d"/><rect x="486" y="674" width="18" height="8" fill="#3a003c"/><rect x="486" y="682" width="18" height="8" fill="#3a003b"/><rect x="486" y="690" width="18" height="8" fill="#39003b"/><rect x="486" y="698" width="18" height="8" fill="#38003a"/><rect x="486" y="706" width="18" height="8" fill="#370039"/><rect x="486" y="714" width="18" height="8" fill="#370038"/><rect x="486" y="722" width="18" height="8" fill="#360038"/><rect x="486" y="730" width="18" height="8" fill="#350037"/><rect x="486" y="738" width="18" height="80" fill="#030003"/><rect x="504" y="170" width="18" height="32" fill="#0e000f"/><rect x="504" y="202" width="18" height="8" fill="#400042"/><rect x="504" y="210" width="18" height="16" fill="#400043"/><rect x="504" y="226" width="18" height="16" fill="#400044"/><rect x="504" y="242" width="18" height="16" fill="#400045"/><rect x="504" y="258" width="18" height="16" fill="#400046"/><rect x="504" y="274" width="18" height="8" fill="#400050"/><rect x="504" y="282" width="18" height="8" fill="#3e0052"/><rect x="504" y="290" width="18" height="8" fill="#3b0055"/><rect x="504" y="298" width="18" height="8" fill="#390057"/><rect x="504" y="306" width="18" height="8" fill="#370059"/><rect x="504" y="314" width="18" height="8" fill="#35005b"/><rect x="504" y="322" width="18" height="8" fill="#32005e"/><rect x="504" y="330" width="18" height="8" fill="#300060"/><rect x="504" y="338" width="18" height="8" fill="#2e0062"/><rect x="504" y="346" width="18" height="8" fill="#2b0065"/><rect x="504" y="354" width="18" height="8" fill="#290067"/><rect x="504" y="362" width="18" height="8" fill="#270069"/><rect x="504" y="370" width="18" height="8" fill="#26006a"/><rect x="504" y="378" width="18" height="8" fill="#25006b"/><rect x="504" y="386" width="18" height="8" fill="#24006c"/><rect x="504" y="394" width="18" height="8" fill="#23006d"/><rect x="504" y="402" width="18" height="8" fill="#22006e"/><rect x="504" y="410" width="18" height="8" fill="#21006f"/><rect x="504" y="418" width="18" height="16" fill="#200070"/><rect x="504" y="434" width="18" height="8" fill="#1f0071"/><rect x="504" y="442" width="18" height="16" fill="#1e0072"/><rect x="504" y="458" width="18" height="16" fill="#1d0073"/><rect x="504" y="474" width="18" height="8" fill="#1c0074"/><rect x="504" y="482" width="18" height="16" fill="#1b0075"/><rect x="504" y="498" width="18" height="16" fill="#1a0076"/><rect x="504" y="514" width="18" height="16" fill="#190077"/><rect x="504" y="530" width="18" height="16" fill="#180078"/><rect x="504" y="546" width="18" height="16" fill="#170079"/><rect x="504" y="562" width="18" height="16" fill="#16007a"/><rect x="504" y="578" width="18" height="8" fill="#180078"/><rect x="504" y="586" width="18" height="8" fill="#1b0075"/><rect x="504" y="594" width="18" height="8" fill="#1d0073"/><rect x="504" y="602" width="18" height="8" fill="#21006f"/><rect x="504" y="610" width="18" height="8" fill="#24006c"/><rect x="504" y="618" width="18" height="8" fill="#280068"/><rect x="504" y="626" width="18" height="8" fill="#2e0062"/><rect x="504" y="634" width="18" height="8" fill="#34005c"/><rect x="504" y="642" width="18" height="8" fill="#3a0056"/><rect x="504" y="650" width="18" height="8" fill="#400050"/><rect x="504" y="658" width="18" height="8" fill="#40004f"/><rect x="504" y="666" width="18" height="8" fill="#40004e"/><rect x="504" y="674" width="18" height="8" fill="#40004c"/><rect x="504" y="682" width="18" height="8" fill="#40004b"/><rect x="504" y="690" width="18" height="8" fill="#40004a"/><rect x="504" y="698" width="18" height="8" fill="#400049"/><rect x="504" y="706" width="18" height="8" fill="#400048"/><rect x="504" y="714" width="18" height="8" fill="#400047"/><rect x="504" y="722" width="18" height="8" fill="#400046"/><rect x="504" y="730" width="18" height="8" fill="#400044"/><rect x="504" y="738" width="18" height="8" fill="#400043"/><rect x="504" y="746" width="18" height="8" fill="#400042"/><rect x="504" y="754" width="18" height="64" fill="#030003"/><rect x="522" y="170" width="18" height="48" fill="#0e000f"/><rect x="522" y="218" width="18" height="8" fill="#3a0056"/><rect x="522" y="226" width="18" height="8" fill="#380058"/><rect x="522" y="234" width="18" height="8" fill="#36005a"/><rect x="522" y="242" width="18" height="8" fill="#34005c"/><rect x="522" y="250" width="18" height="8" fill="#32005e"/><rect x="522" y="258" width="18" height="8" fill="#300060"/><rect x="522" y="266" width="18" height="8" fill="#2f0061"/><rect x="522" y="274" width="18" height="8" fill="#2d0063"/><rect x="522" y="282" width="18" height="8" fill="#2b0065"/><rect x="522" y="290" width="18" height="8" fill="#290067"/><rect x="522" y="298" width="18" height="8" fill="#280068"/><rect x="522" y="306" width="18" height="8" fill="#270069"/><rect x="522" y="314" width="18" height="8" fill="#26006a"/><rect x="522" y="322" width="18" height="8" fill="#25006b"/><rect x="522" y="330" width="18" height="8" fill="#24006c"/><rect x="522" y="338" width="18" height="8" fill="#23006d"/><rect x="522" y="346" width="18" height="8" fill="#21006f"/><rect x="522" y="354" width="18" height="8" fill="#1f0071"/><rect x="522" y="362" width="18" height="8" fill="#1d0073"/><rect x="522" y="370" width="18" height="8" fill="#1b0075"/><rect x="522" y="378" width="18" height="8" fill="#190077"/><rect x="522" y="386" width="18" height="8" fill="#180078"/><rect x="522" y="394" width="18" height="8" fill="#16007a"/><rect x="522" y="402" width="18" height="8" fill="#14007c"/><rect x="522" y="410" width="18" height="8" fill="#12007e"/><rect x="522" y="418" width="18" height="8" fill="#11007f"/><rect x="522" y="426" width="18" height="16" fill="#100080"/><rect x="522" y="442" width="18" height="8" fill="#0f0081"/><rect x="522" y="450" width="18" height="8" fill="#0e0082"/><rect x="522" y="458" width="18" height="8" fill="#0d0083"/><rect x="522" y="466" width="18" height="8" fill="#0c0084"/><rect x="522" y="474" width="18" height="8" fill="#0b0085"/><rect x="522" y="482" width="18" height="8" fill="#0a0086"/><rect x="522" y="490" width="18" height="8" fill="#090087"/><rect x="522" y="498" width="18" height="8" fill="#080088"/><rect x="522" y="506" width="18" height="8" fill="#070089"/><rect x="522" y="514" width="18" height="8" fill="#06008a"/><rect x="522" y="522" width="18" height="8" fill="#05008b"/><rect x="522" y="530" width="18" height="8" fill="#04008c"/><rect x="522" y="538" width="18" height="8" fill="#01008f"/><rect x="522" y="546" width="18" height="8" fill="#00038e"/><rect x="522" y="554" width="18" height="8" fill="#000989"/><rect x="522" y="562" width="18" height="8" fill="#000e86"/><rect x="522" y="570" width="18" height="8" fill="#001383"/><rect x="522" y="578" width="18" height="16" fill="#04008c"/><rect x="522" y="594" width="18" height="8" fill="#070089"/><rect x="522" y="602" width="18" height="8" fill="#0b0085"/><rect x="522" y="610" width="18" height="8" fill="#0f0081"/><rect x="522" y="618" width="18" height="8" fill="#12007e"/><rect x="522" y="626" width="18" height="8" fill="#16007a"/><rect x="522" y="634" width="18" height="8" fill="#22006e"/><rect x="522" y="642" width="18" height="8" fill="#26006a"/><rect x="522" y="650" width="18" height="8" fill="#2b0065"/><rect x="522" y="658" width="18" height="8" fill="#2e0062"/><rect x="522" y="666" width="18" height="8" fill="#31005f"/><rect x="522" y="674" width="18" height="8" fill="#34005c"/><rect x="522" y="682" width="18" height="8" fill="#370059"/><rect x="522" y="690" width="18" height="8" fill="#390057"/><rect x="522" y="698" width="18" height="8" fill="#3c0054"/><rect x="522" y="706" width="18" height="8" fill="#3f0051"/><rect x="522" y="714" width="18" height="8" fill="#40004e"/><rect x="522" y="722" width="18" height="8" fill="#40004c"/><rect x="522" y="730" width="18" height="8" fill="#400049"/><rect x="522" y="738" width="18" height="8" fill="#400047"/><rect x="522" y="746" width="18" height="8" fill="#400044"/><rect x="522" y="754" width="18" height="8" fill="#400042"/><rect x="522" y="762" width="18" height="8" fill="#3f0041"/><rect x="522" y="770" width="18" height="48" fill="#030003"/><rect x="540" y="170" width="18" height="64" fill="#0e000f"/><rect x="540" y="234" width="18" height="8" fill="#36005a"/><rect x="540" y="242" width="18" height="8" fill="#33005d"/><rect x="540" y="250" width="18" height="8" fill="#300060"/><rect x="540" y="258" width="18" height="8" fill="#2d0063"/><rect x="540" y="266" width="18" height="8" fill="#2a0066"/><rect x="540" y="274" width="18" height="8" fill="#280068"/><rect x="540" y="282" width="18" height="8" fill="#26006a"/><rect x="540" y="290" width="18" height="8" fill="#25006b"/><rect x="540" y="298" width="18" height="8" fill="#23006d"/><rect x="540" y="306" width="18" height="8" fill="#22006e"/><rect x="540" y="314" width="18" height="8" fill="#21006f"/><rect x="540" y="322" width="18" height="8" fill="#1f0071"/><rect x="540" y="330" width="18" height="8" fill="#1e0072"/><rect x="540" y="338" width="18" height="8" fill="#1b0075"/><rect x="540" y="346" width="18" height="8" fill="#180078"/><rect x="540" y="354" width="18" height="8" fill="#15007b"/><rect x="540" y="362" width="18" height="8" fill="#13007d"/><rect x="540" y="370" width="18" height="8" fill="#100080"/><rect x="540" y="378" width="18" height="8" fill="#0d0083"/><rect x="540" y="386" width="18" height="8" fill="#0a0086"/><rect x="540" y="394" width="18" height="8" fill="#070089"/><rect x="540" y="402" width="18" height="8" fill="#05008b"/><rect x="540" y="410" width="18" height="8" fill="#03008d"/><rect x="540" y="418" width="18" height="8" fill="#01008f"/><rect x="540" y="426" width="18" height="8" fill="#00048d"/><rect x="540" y="434" width="18" height="8" fill="#000989"/><rect x="540" y="442" width="18" height="8" fill="#000d86"/><rect x="540" y="450" width="18" height="8" fill="#001184"/><rect x="540" y="458" width="18" height="8" fill="#001581"/><rect x="540" y="466" width="18" height="8" fill="#00197e"/><rect x="540" y="474" width="18" height="8" fill="#001d7b"/><rect x="540" y="482" width="18" height="8" fill="#002178"/><rect x="540" y="490" width="18" height="8" fill="#002575"/><rect x="540" y="498" width="18" height="8" fill="#002a72"/><rect x="540" y="506" width="18" height="8" fill="#002f6f"/><rect x="540" y="514" width="18" height="8" fill="#00336b"/><rect x="540" y="522" width="18" height="8" fill="#003868"/><rect x="540" y="530" width="18" height="8" fill="#003f5e"/><rect x="540" y="538" width="18" height="8" fill="#004653"/><rect x="540" y="546" width="18" height="8" fill="#004e49"/><rect x="540" y="554" width="18" height="8" fill="#00553e"/><rect x="540" y="562" width="18" height="8" fill="#005c34"/><rect x="540" y="570" width="18" height="8" fill="#00632a"/><rect x="540" y="578" width="18" height="8" fill="#00602f"/><rect x="540" y="586" width="18" height="8" fill="#005c34"/><rect x="540" y="594" width="18" height="8" fill="#004653"/><rect x="540" y="602" width="18" height="8" fill="#002f6f"/><rect x="540" y="610" width="18" height="8" fill="#001383"/><rect x="540" y="618" width="18" height="8" fill="#04008c"/><rect x="540" y="626" width="18" height="8" fill="#090087"/><rect x="540" y="634" width="18" height="8" fill="#170079"/><rect x="540" y="642" width="18" height="8" fill="#1b0075"/><rect x="540" y="650" width="18" height="8" fill="#1f0071"/><rect x="540" y="658" width="18" height="8" fill="#200070"/><rect x="540" y="666" width="18" height="8" fill="#21006f"/><rect x="540" y="674" width="18" height="8" fill="#22006e"/><rect x="540" y="682" width="18" height="8" fill="#23006d"/><rect x="540" y="690" width="18" height="8" fill="#24006c"/><rect x="540" y="698" width="18" height="8" fill="#25006b"/><rect x="540" y="706" width="18" height="8" fill="#26006a"/><rect x="540" y="714" width="18" height="8" fill="#280068"/><rect x="540" y="722" width="18" height="8" fill="#2a0066"/><rect x="540" y="730" width="18" height="8" fill="#2c0064"/><rect x="540" y="738" width="18" height="8" fill="#2f0061"/><rect x="540" y="746" width="18" height="8" fill="#31005f"/><rect x="540" y="754" width="18" height="8" fill="#34005c"/><rect x="540" y="762" width="18" height="8" fill="#36005a"/><rect x="540" y="770" width="18" height="8" fill="#390057"/><rect x="540" y="778" width="18" height="8" fill="#3b0055"/><rect x="540" y="786" width="18" height="32" fill="#030003"/><rect x="558" y="170" width="18" height="80" fill="#0e000f"/><rect x="558" y="250" width="18" height="8" fill="#32005e"/><rect x="558" y="258" width="18" height="8" fill="#2d0063"/><rect x="558" y="266" width="18" height="8" fill="#290067"/><rect x="558" y="274" width="18" height="8" fill="#26006a"/><rect x="558" y="282" width="18" height="8" fill="#25006b"/><rect x="558" y="290" width="18" height="8" fill="#23006d"/><rect x="558" y="298" width="18" height="8" fill="#21006f"/><rect x="558" y="306" width="18" height="8" fill="#1f0071"/><rect x="558" y="314" width="18" height="8" fill="#1d0073"/><rect x="558" y="322" width="18" height="8" fill="#1b0075"/><rect x="558" y="330" width="18" height="8" fill="#190077"/><rect x="558" y="338" width="18" height="8" fill="#16007a"/><rect x="558" y="346" width="18" height="8" fill="#13007d"/><rect x="558" y="354" width="18" height="8" fill="#100080"/><rect x="558" y="362" width="18" height="8" fill="#0d0083"/><rect x="558" y="370" width="18" height="8" fill="#0a0086"/><rect x="558" y="378" width="18" height="8" fill="#070089"/><rect x="558" y="386" width="18" height="8" fill="#02008e"/><rect x="558" y="394" width="18" height="8" fill="#000989"/><rect x="558" y="402" width="18" height="8" fill="#001383"/><rect x="558" y="410" width="18" height="8" fill="#001c7c"/><rect x="558" y="418" width="18" height="8" fill="#002575"/><rect x="558" y="426" width="18" height="8" fill="#002f6f"/><rect x="558" y="434" width="18" height="8" fill="#00336b"/><rect x="558" y="442" width="18" height="8" fill="#003868"/><rect x="558" y="450" width="18" height="8" fill="#003c63"/><rect x="558" y="458" width="18" height="8" fill="#003f5e"/><rect x="558" y="466" width="18" height="8" fill="#00415b"/><rect x="558" y="474" width="18" height="8" fill="#004358"/><rect x="558" y="482" width="18" height="8" fill="#004556"/><rect x="558" y="490" width="18" height="8" fill="#004653"/><rect x="558" y="498" width="18" height="8" fill="#004a4e"/><rect x="558" y="506" width="18" height="8" fill="#004e49"/><rect x="558" y="514" width="18" height="8" fill="#005144"/><rect x="558" y="522" width="18" height="8" fill="#00553e"/><rect x="558" y="530" width="18" height="8" fill="#005c34"/><rect x="558" y="538" width="18" height="8" fill="#00632a"/><rect x="558" y="546" width="18" height="8" fill="#006a1f"/><rect x="558" y="554" width="18" height="8" fill="#007510"/><rect x="558" y="562" width="18" height="8" fill="#008000"/><rect x="558" y="570" width="18" height="8" fill="#118600"/><rect x="558" y="578" width="18" height="8" fill="#228c00"/><rect x="558" y="586" width="18" height="8" fill="#278e00"/><rect x="558" y="594" width="18" height="8" fill="#2d9000"/><rect x="558" y="602" width="18" height="8" fill="#228c00"/><rect x="558" y="610" width="18" height="8" fill="#0b8400"/><rect x="558" y="618" width="18" height="8" fill="#007215"/><rect x="558" y="626" width="18" height="8" fill="#005c34"/><rect x="558" y="634" width="18" height="8" fill="#004653"/><rect x="558" y="642" width="18" height="8" fill="#002575"/><rect x="558" y="650" width="18" height="8" fill="#00068c"/><rect x="558" y="658" width="18" height="8" fill="#0f0081"/><rect x="558" y="666" width="18" height="24" fill="#12007e"/><rect x="558" y="690" width="18" height="48" fill="#190077"/><rect x="558" y="738" width="18" height="8" fill="#21006f"/><rect x="558" y="746" width="18" height="8" fill="#22006e"/><rect x="558" y="754" width="18" height="8" fill="#23006d"/><rect x="558" y="762" width="18" height="8" fill="#24006c"/><rect x="558" y="770" width="18" height="8" fill="#25006b"/><rect x="558" y="778" width="18" height="8" fill="#26006a"/><rect x="558" y="786" width="18" height="8" fill="#270069"/><rect x="558" y="794" width="18" height="8" fill="#280068"/><rect x="558" y="802" width="18" height="16" fill="#030003"/><rect x="576" y="170" width="18" height="96" fill="#0e000f"/><rect x="576" y="266" width="18" height="8" fill="#2d0063"/><rect x="576" y="274" width="18" height="8" fill="#270069"/><rect x="576" y="282" width="18" height="8" fill="#24006c"/><rect x="576" y="290" width="18" height="8" fill="#21006f"/><rect x="576" y="298" width="18" height="8" fill="#1f0071"/><rect x="576" y="306" width="18" height="8" fill="#1c0074"/><rect x="576" y="314" width="18" height="8" fill="#190077"/><rect x="576" y="322" width="18" height="8" fill="#16007a"/><rect x="576" y="330" width="18" height="8" fill="#13007d"/><rect x="576" y="338" width="18" height="8" fill="#100080"/><rect x="576" y="346" width="18" height="8" fill="#0d0083"/><rect x="576" y="354" width="18" height="8" fill="#0a0086"/><rect x="576" y="362" width="18" height="8" fill="#070089"/><rect x="576" y="370" width="18" height="8" fill="#04008c"/><rect x="576" y="378" width="18" height="8" fill="#001383"/><rect x="576" y="386" width="18" height="8" fill="#002179"/><rect x="576" y="394" width="18" height="8" fill="#002f6f"/><rect x="576" y="402" width="18" height="8" fill="#003c63"/><rect x="576" y="410" width="18" height="8" fill="#004653"/><rect x="576" y="418" width="18" height="8" fill="#004a4e"/><rect x="576" y="426" width="18" height="8" fill="#004e49"/><rect x="576" y="434" width="18" height="8" fill="#005144"/><rect x="576" y="442" width="18" height="8" fill="#00553e"/><rect x="576" y="450" width="18" height="8" fill="#00563c"/><rect x="576" y="458" width="18" height="8" fill="#00583a"/><rect x="576" y="466" width="18" height="8" fill="#005a37"/><rect x="576" y="474" width="18" height="8" fill="#005c35"/><rect x="576" y="482" width="18" height="8" fill="#005d32"/><rect x="576" y="490" width="18" height="8" fill="#005f30"/><rect x="576" y="498" width="18" height="8" fill="#00602e"/><rect x="576" y="506" width="18" height="8" fill="#00612d"/><rect x="576" y="514" width="18" height="8" fill="#00622b"/><rect x="576" y="522" width="18" height="8" fill="#00632a"/><rect x="576" y="530" width="18" height="8" fill="#006a1f"/><rect x="576" y="538" width="18" height="8" fill="#007215"/><rect x="576" y="546" width="18" height="8" fill="#00790a"/><rect x="576" y="554" width="18" height="8" fill="#068200"/><rect x="576" y="562" width="18" height="8" fill="#168800"/><rect x="576" y="570" width="18" height="8" fill="#278e00"/><rect x="576" y="578" width="18" height="8" fill="#389400"/><rect x="576" y="586" width="18" height="8" fill="#499a00"/><rect x="576" y="594" width="18" height="8" fill="#5aa000"/><rect x="576" y="602" width="18" height="8" fill="#65a400"/><rect x="576" y="610" width="18" height="24" fill="#70a800"/><rect x="576" y="634" width="18" height="8" fill="#5aa000"/><rect x="576" y="642" width="18" height="8" fill="#389400"/><rect x="576" y="650" width="18" height="8" fill="#0b8400"/><rect x="576" y="658" width="18" height="8" fill="#006a1f"/><rect x="576" y="666" width="18" height="8" fill="#004e49"/><rect x="576" y="674" width="18" height="8" fill="#002f6f"/><rect x="576" y="682" width="18" height="8" fill="#001c7c"/><rect x="576" y="690" width="18" height="8" fill="#000989"/><rect x="576" y="698" width="18" height="16" fill="#000090"/><rect x="576" y="714" width="18" height="24" fill="#0b0085"/><rect x="576" y="738" width="18" height="40" fill="#12007e"/><rect x="576" y="778" width="18" height="8" fill="#190077"/><rect x="576" y="786" width="18" height="8" fill="#1b0075"/><rect x="576" y="794" width="18" height="8" fill="#1d0073"/><rect x="576" y="802" width="18" height="8" fill="#1f0071"/><rect x="576" y="810" width="18" height="8" fill="#21006f"/><rect x="594" y="170" width="18" height="112" fill="#0e000f"/><rect x="594" y="282" width="18" height="8" fill="#270069"/><rect x="594" y="290" width="18" height="8" fill="#23006d"/><rect x="594" y="298" width="18" height="8" fill="#1f0071"/><rect x="594" y="306" width="18" height="8" fill="#1b0075"/><rect x="594" y="314" width="18" height="8" fill="#170079"/><rect x="594" y="322" width="18" height="8" fill="#13007d"/><rect x="594" y="330" width="18" height="8" fill="#0f0081"/><rect x="594" y="338" width="18" height="8" fill="#0b0085"/><rect x="594" y="346" width="18" height="8" fill="#070089"/><rect x="594" y="354" width="18" height="8" fill="#04008c"/><rect x="594" y="362" width="18" height="8" fill="#000090"/><rect x="594" y="370" width="18" height="8" fill="#001c7c"/><rect x="594" y="378" width="18" height="8" fill="#002a72"/><rect x="594" y="386" width="18" height="8" fill="#003868"/><rect x="594" y="394" width="18" height="8" fill="#004358"/><rect x="594" y="402" width="18" height="8" fill="#004e49"/><rect x="594" y="410" width="18" height="8" fill="#005839"/><rect x="594" y="418" width="18" height="8" fill="#00632a"/><rect x="594" y="426" width="18" height="8" fill="#006a1f"/><rect x="594" y="434" width="18" height="8" fill="#007215"/><rect x="594" y="442" width="18" height="8" fill="#00760e"/><rect x="594" y="450" width="18" height="8" fill="#007b07"/><rect x="594" y="458" width="18" height="8" fill="#008000"/><rect x="594" y="466" width="18" height="8" fill="#018000"/><rect x="594" y="474" width="18" height="8" fill="#028100"/><rect x="594" y="482" width="18" height="8" fill="#038100"/><rect x="594" y="490" width="18" height="8" fill="#048200"/><rect x="594" y="498" width="18" height="8" fill="#068200"/><rect x="594" y="506" width="18" height="8" fill="#078200"/><rect x="594" y="514" width="18" height="8" fill="#088300"/><rect x="594" y="522" width="18" height="8" fill="#098300"/><rect x="594" y="530" width="18" height="8" fill="#0a8400"/><rect x="594" y="538" width="18" height="8" fill="#0b8400"/><rect x="594" y="546" width="18" height="8" fill="#118600"/><rect x="594" y="554" width="18" height="8" fill="#168800"/><rect x="594" y="562" width="18" height="8" fill="#228c00"/><rect x="594" y="570" width="18" height="8" fill="#2d9000"/><rect x="594" y="578" width="18" height="8" fill="#389400"/><rect x="594" y="586" width="18" height="8" fill="#439800"/><rect x="594" y="594" width="18" height="8" fill="#549e00"/><rect x="594" y="602" width="18" height="8" fill="#65a400"/><rect x="594" y="610" width="18" height="8" fill="#85b000"/><rect x="594" y="618" width="18" height="8" fill="#a4bb00"/><rect x="594" y="626" width="18" height="8" fill="#aebf00"/><rect x="594" y="634" width="18" height="16" fill="#b9c300"/><rect x="594" y="650" width="18" height="8" fill="#aebf00"/><rect x="594" y="658" width="18" height="8" fill="#85b000"/><rect x="594" y="666" width="18" height="8" fill="#5aa000"/><rect x="594" y="674" width="18" height="8" fill="#228c00"/><rect x="594" y="682" width="18" height="8" fill="#008000"/><rect x="594" y="690" width="18" height="8" fill="#005c34"/><rect x="594" y="698" width="18" height="8" fill="#003f5e"/><rect x="594" y="706" width="18" height="8" fill="#002575"/><rect x="594" y="714" width="18" height="8" fill="#000090"/><rect x="594" y="722" width="18" height="16" fill="#04008c"/><rect x="594" y="738" width="18" height="24" fill="#070089"/><rect x="594" y="762" width="18" height="24" fill="#0f0081"/><rect x="594" y="786" width="18" height="8" fill="#16007a"/><rect x="594" y="794" width="18" height="8" fill="#180078"/><rect x="594" y="802" width="18" height="8" fill="#1b0075"/><rect x="594" y="810" width="18" height="8" fill="#1d0073"/><rect x="612" y="170" width="18" height="120" fill="#0e000f"/><rect x="612" y="290" width="18" height="8" fill="#270069"/><rect x="612" y="298" width="18" height="8" fill="#21006f"/><rect x="612" y="306" width="18" height="8" fill="#1b0075"/><rect x="612" y="314" width="18" height="8" fill="#16007a"/><rect x="612" y="322" width="18" height="8" fill="#100080"/><rect x="612" y="330" width="18" height="8" fill="#0b0085"/><rect x="612" y="338" width="18" height="8" fill="#06008a"/><rect x="612" y="346" width="18" height="8" fill="#01008f"/><rect x="612" y="354" width="18" height="8" fill="#000989"/><rect x="612" y="362" width="18" height="8" fill="#001c7c"/><rect x="612" y="370" width="18" height="8" fill="#002a72"/><rect x="612" y="378" width="18" height="8" fill="#003868"/><rect x="612" y="386" width="18" height="8" fill="#004358"/><rect x="612" y="394" width="18" height="8" fill="#004e49"/><rect x="612" y="402" width="18" height="8" fill="#005839"/><rect x="612" y="410" width="18" height="8" fill="#00632a"/><rect x="612" y="418" width="18" height="8" fill="#007215"/><rect x="612" y="426" width="18" height="8" fill="#008000"/><rect x="612" y="434" width="18" height="8" fill="#168800"/><rect x="612" y="442" width="18" height="8" fill="#2d9000"/><rect x="612" y="450" width="18" height="8" fill="#389400"/><rect x="612" y="458" width="18" height="8" fill="#439800"/><rect x="612" y="466" width="18" height="8" fill="#4e9c00"/><rect x="612" y="474" width="18" height="8" fill="#5aa000"/><rect x="612" y="482" width="18" height="8" fill="#5da100"/><rect x="612" y="490" width="18" height="8" fill="#60a200"/><rect x="612" y="498" width="18" height="8" fill="#5fa200"/><rect x="612" y="506" width="18" height="8" fill="#4d9c00"/><rect x="612" y="514" width="18" height="8" fill="#4c9b00"/><rect x="612" y="522" width="18" height="8" fill="#4a9a00"/><rect x="612" y="530" width="18" height="8" fill="#449800"/><rect x="612" y="538" width="18" height="56" fill="#3f9600"/><rect x="612" y="594" width="18" height="8" fill="#4a9a00"/><rect x="612" y="602" width="18" height="8" fill="#559e00"/><rect x="612" y="610" width="18" height="8" fill="#70a800"/><rect x="612" y="618" width="18" height="8" fill="#7aac00"/><rect x="612" y="626" width="18" height="8" fill="#8ab100"/><rect x="612" y="634" width="18" height="8" fill="#9ab700"/><rect x="612" y="642" width="18" height="8" fill="#aebf00"/><rect x="612" y="650" width="18" height="8" fill="#c8c800"/><rect x="612" y="658" width="18" height="16" fill="#d7a700"/><rect x="612" y="674" width="18" height="8" fill="#ccc000"/><rect x="612" y="682" width="18" height="8" fill="#aebf00"/><rect x="612" y="690" width="18" height="8" fill="#7aac00"/><rect x="612" y="698" width="18" height="8" fill="#389400"/><rect x="612" y="706" width="18" height="8" fill="#0b8400"/><rect x="612" y="714" width="18" height="8" fill="#00553e"/><rect x="612" y="722" width="18" height="8" fill="#003868"/><rect x="612" y="730" width="18" height="8" fill="#001c7c"/><rect x="612" y="738" width="18" height="8" fill="#000090"/><rect x="612" y="746" width="18" height="16" fill="#04008c"/><rect x="612" y="762" width="18" height="24" fill="#0b0085"/><rect x="612" y="786" width="18" height="8" fill="#12007e"/><rect x="612" y="794" width="18" height="8" fill="#16007a"/><rect x="612" y="802" width="18" height="8" fill="#190077"/><rect x="612" y="810" width="18" height="8" fill="#1d0073"/><rect x="630" y="170" width="18" height="128" fill="#0e000f"/><rect x="630" y="298" width="18" height="8" fill="#21006f"/><rect x="630" y="306" width="18" height="8" fill="#0b0085"/><rect x="630" y="314" width="18" height="8" fill="#0a0086"/><rect x="630" y="322" width="18" height="8" fill="#080088"/><rect x="630" y="330" width="18" height="8" fill="#070089"/><rect x="630" y="338" width="18" height="8" fill="#04008c"/><rect x="630" y="346" width="18" height="8" fill="#000090"/><rect x="630" y="354" width="18" height="8" fill="#000989"/><rect x="630" y="362" width="18" height="8" fill="#001383"/><rect x="630" y="370" width="18" height="8" fill="#002575"/><rect x="630" y="378" width="18" height="8" fill="#003868"/><rect x="630" y="386" width="18" height="8" fill="#004653"/><rect x="630" y="394" width="18" height="8" fill="#00553e"/><rect x="630" y="402" width="18" height="8" fill="#00632a"/><rect x="630" y="410" width="18" height="8" fill="#007215"/><rect x="630" y="418" width="18" height="8" fill="#0b8400"/><rect x="630" y="426" width="18" height="8" fill="#228c00"/><rect x="630" y="434" width="18" height="8" fill="#389400"/><rect x="630" y="442" width="18" height="8" fill="#4e9c00"/><rect x="630" y="450" width="18" height="8" fill="#70a800"/><rect x="630" y="458" width="18" height="8" fill="#85b000"/><rect x="630" y="466" width="18" height="8" fill="#9ab700"/><rect x="630" y="474" width="18" height="16" fill="#a4bb00"/><rect x="630" y="490" width="18" height="16" fill="#9ab700"/><rect x="630" y="506" width="18" height="8" fill="#8fb300"/><rect x="630" y="514" width="18" height="8" fill="#85b000"/><rect x="630" y="522" width="18" height="8" fill="#7aac00"/><rect x="630" y="530" width="18" height="8" fill="#70a800"/><rect x="630" y="538" width="18" height="8" fill="#65a400"/><rect x="630" y="546" width="18" height="8" fill="#5aa000"/><rect x="630" y="554" width="18" height="8" fill="#4e9c00"/><rect x="630" y="562" width="18" height="32" fill="#439800"/><rect x="630" y="594" width="18" height="24" fill="#4e9c00"/><rect x="630" y="618" width="18" height="8" fill="#5aa000"/><rect x="630" y="626" width="18" height="8" fill="#65a400"/><rect x="630" y="634" width="18" height="8" fill="#7aac00"/><rect x="630" y="642" width="18" height="8" fill="#8fb300"/><rect x="630" y="650" width="18" height="8" fill="#95b600"/><rect x="630" y="658" width="18" height="8" fill="#b9c300"/><rect x="630" y="666" width="18" height="8" fill="#cfb700"/><rect x="630" y="674" width="18" height="8" fill="#da9e00"/><rect x="630" y="682" width="18" height="8" fill="#de9600"/><rect x="630" y="690" width="18" height="8" fill="#da9e00"/><rect x="630" y="698" width="18" height="8" fill="#cfb700"/><rect x="630" y="706" width="18" height="8" fill="#85b000"/><rect x="630" y="714" width="18" height="8" fill="#168800"/><rect x="630" y="722" width="18" height="8" fill="#00632a"/><rect x="630" y="730" width="18" height="8" fill="#004653"/><rect x="630" y="738" width="18" height="8" fill="#002f6f"/><rect x="630" y="746" width="18" height="8" fill="#001383"/><rect x="630" y="754" width="18" height="8" fill="#000090"/><rect x="630" y="762" width="18" height="8" fill="#04008c"/><rect x="630" y="770" width="18" height="8" fill="#0f0081"/><rect x="630" y="778" width="18" height="8" fill="#14007c"/><rect x="630" y="786" width="18" height="8" fill="#170079"/><rect x="630" y="794" width="18" height="8" fill="#1b0075"/><rect x="630" y="802" width="18" height="8" fill="#22006e"/><rect x="630" y="810" width="18" height="8" fill="#26006a"/><rect x="648" y="170" width="18" height="128" fill="#0e000f"/><rect x="648" y="298" width="18" height="8" fill="#21006f"/><rect x="648" y="306" width="18" height="8" fill="#0f0081"/><rect x="648" y="314" width="18" height="8" fill="#0c0084"/><rect x="648" y="322" width="18" height="8" fill="#0a0086"/><rect x="648" y="330" width="18" height="8" fill="#070089"/><rect x="648" y="338" width="18" height="8" fill="#06008a"/><rect x="648" y="346" width="18" height="8" fill="#05008b"/><rect x="648" y="354" width="18" height="8" fill="#04008c"/><rect x="648" y="362" width="18" height="16" fill="#001383"/><rect x="648" y="378" width="18" height="8" fill="#002f6f"/><rect x="648" y="386" width="18" height="8" fill="#003f5e"/><rect x="648" y="394" width="18" height="8" fill="#004e49"/><rect x="648" y="402" width="18" height="8" fill="#005c34"/><rect x="648" y="410" width="18" height="8" fill="#006a1f"/><rect x="648" y="418" width="18" height="8" fill="#008000"/><rect x="648" y="426" width="18" height="8" fill="#228c00"/><rect x="648" y="434" width="18" height="8" fill="#439800"/><rect x="648" y="442" width="18" height="8" fill="#7aac00"/><rect x="648" y="450" width="18" height="8" fill="#a4bb00"/><rect x="648" y="458" width="18" height="8" fill="#cfb700"/><rect x="648" y="466" width="18" height="8" fill="#d3af00"/><rect x="648" y="474" width="18" height="16" fill="#da9e00"/><rect x="648" y="490" width="18" height="8" fill="#d5aa00"/><rect x="648" y="498" width="18" height="8" fill="#c8c800"/><rect x="648" y="506" width="18" height="8" fill="#b9c300"/><rect x="648" y="514" width="18" height="8" fill="#9ab700"/><rect x="648" y="522" width="18" height="8" fill="#7aac00"/><rect x="648" y="530" width="18" height="8" fill="#81ae00"/><rect x="648" y="538" width="18" height="8" fill="#6ca600"/><rect x="648" y="546" width="18" height="8" fill="#60a200"/><rect x="648" y="554" width="18" height="8" fill="#559e00"/><rect x="648" y="562" width="18" height="32" fill="#3f9600"/><rect x="648" y="594" width="18" height="32" fill="#349200"/><rect x="648" y="626" width="18" height="8" fill="#3f9600"/><rect x="648" y="634" width="18" height="8" fill="#4a9a00"/><rect x="648" y="642" width="18" height="8" fill="#4e9c00"/><rect x="648" y="650" width="18" height="8" fill="#65a400"/><rect x="648" y="658" width="18" height="8" fill="#7aac00"/><rect x="648" y="666" width="18" height="8" fill="#9ab700"/><rect x="648" y="674" width="18" height="8" fill="#b9c300"/><rect x="648" y="682" width="18" height="8" fill="#d3af00"/><rect x="648" y="690" width="18" height="8" fill="#da9e00"/><rect x="648" y="698" width="18" height="16" fill="#de9600"/><rect x="648" y="714" width="18" height="8" fill="#ccc000"/><rect x="648" y="722" width="18" height="8" fill="#85b000"/><rect x="648" y="730" width="18" height="8" fill="#228c00"/><rect x="648" y="738" width="18" height="8" fill="#00632a"/><rect x="648" y="746" width="18" height="8" fill="#003f5e"/><rect x="648" y="754" width="18" height="8" fill="#002575"/><rect x="648" y="762" width="18" height="8" fill="#000989"/><rect x="648" y="770" width="18" height="8" fill="#070089"/><rect x="648" y="778" width="18" height="8" fill="#0c0084"/><rect x="648" y="786" width="18" height="8" fill="#100080"/><rect x="648" y="794" width="18" height="8" fill="#170079"/><rect x="648" y="802" width="18" height="8" fill="#1f0071"/><rect x="648" y="810" width="18" height="8" fill="#26006a"/><rect x="666" y="170" width="18" height="120" fill="#0e000f"/><rect x="666" y="290" width="18" height="8" fill="#190077"/><rect x="666" y="298" width="18" height="8" fill="#0f0081"/><rect x="666" y="306" width="18" height="8" fill="#0d0083"/><rect x="666" y="314" width="18" height="8" fill="#0c0084"/><rect x="666" y="322" width="18" height="8" fill="#0b0085"/><rect x="666" y="330" width="18" height="8" fill="#090087"/><rect x="666" y="338" width="18" height="8" fill="#080088"/><rect x="666" y="346" width="18" height="8" fill="#070089"/><rect x="666" y="354" width="18" height="8" fill="#05008b"/><rect x="666" y="362" width="18" height="8" fill="#04008c"/><rect x="666" y="370" width="18" height="16" fill="#000989"/><rect x="666" y="386" width="18" height="8" fill="#001c7c"/><rect x="666" y="394" width="18" height="8" fill="#003868"/><rect x="666" y="402" width="18" height="8" fill="#004e49"/><rect x="666" y="410" width="18" height="8" fill="#00632a"/><rect x="666" y="418" width="18" height="8" fill="#008000"/><rect x="666" y="426" width="18" height="8" fill="#2d9000"/><rect x="666" y="434" width="18" height="8" fill="#7aac00"/><rect x="666" y="442" width="18" height="8" fill="#b9c300"/><rect x="666" y="450" width="18" height="8" fill="#d7a700"/><rect x="666" y="458" width="18" height="16" fill="#da8900"/><rect x="666" y="474" width="18" height="8" fill="#da9e00"/><rect x="666" y="482" width="18" height="8" fill="#d3af00"/><rect x="666" y="490" width="18" height="8" fill="#cebb00"/><rect x="666" y="498" width="18" height="8" fill="#aebf00"/><rect x="666" y="506" width="18" height="8" fill="#8fb300"/><rect x="666" y="514" width="18" height="8" fill="#70a800"/><rect x="666" y="522" width="18" height="8" fill="#5aa000"/><rect x="666" y="530" width="18" height="8" fill="#559e00"/><rect x="666" y="538" width="18" height="8" fill="#4a9a00"/><rect x="666" y="546" width="18" height="8" fill="#3f9600"/><rect x="666" y="554" width="18" height="8" fill="#349200"/><rect x="666" y="562" width="18" height="72" fill="#288e00"/><rect x="666" y="634" width="18" height="8" fill="#349200"/><rect x="666" y="642" width="18" height="8" fill="#389400"/><rect x="666" y="650" width="18" height="8" fill="#4e9c00"/><rect x="666" y="658" width="18" height="8" fill="#65a400"/><rect x="666" y="666" width="18" height="8" fill="#7aac00"/><rect x="666" y="674" width="18" height="8" fill="#8fb300"/><rect x="666" y="682" width="18" height="8" fill="#b9c300"/><rect x="666" y="690" width="18" height="8" fill="#ccc000"/><rect x="666" y="698" width="18" height="16" fill="#d3af00"/><rect x="666" y="714" width="18" height="8" fill="#ccc000"/><rect x="666" y="722" width="18" height="8" fill="#85b000"/><rect x="666" y="730" width="18" height="8" fill="#228c00"/><rect x="666" y="738" width="18" height="8" fill="#00632a"/><rect x="666" y="746" width="18" height="8" fill="#003f5e"/><rect x="666" y="754" width="18" height="8" fill="#002575"/><rect x="666" y="762" width="18" height="8" fill="#000989"/><rect x="666" y="770" width="18" height="8" fill="#070089"/><rect x="666" y="778" width="18" height="8" fill="#0c0084"/><rect x="666" y="786" width="18" height="8" fill="#100080"/><rect x="666" y="794" width="18" height="8" fill="#170079"/><rect x="666" y="802" width="18" height="8" fill="#1f0071"/><rect x="666" y="810" width="18" height="8" fill="#26006a"/><rect x="684" y="170" width="18" height="112" fill="#0e000f"/><rect x="684" y="282" width="18" height="8" fill="#12007e"/><rect x="684" y="290" width="18" height="8" fill="#11007f"/><rect x="684" y="298" width="18" height="8" fill="#100080"/><rect x="684" y="306" width="18" height="8" fill="#0f0081"/><rect x="684" y="314" width="18" height="8" fill="#0d0083"/><rect x="684" y="322" width="18" height="8" fill="#0c0084"/><rect x="684" y="330" width="18" height="8" fill="#0b0085"/><rect x="684" y="338" width="18" height="8" fill="#0a0086"/><rect x="684" y="346" width="18" height="8" fill="#080088"/><rect x="684" y="354" width="18" height="8" fill="#070089"/><rect x="684" y="362" width="18" height="8" fill="#06008a"/><rect x="684" y="370" width="18" height="8" fill="#05008b"/><rect x="684" y="378" width="18" height="8" fill="#04008c"/><rect x="684" y="386" width="18" height="8" fill="#000090"/><rect x="684" y="394" width="18" height="8" fill="#003f5e"/><rect x="684" y="402" width="18" height="8" fill="#00790a"/><rect x="684" y="410" width="18" height="8" fill="#4e9c00"/><rect x="684" y="418" width="18" height="8" fill="#85b000"/><rect x="684" y="426" width="18" height="8" fill="#b9c300"/><rect x="684" y="434" width="18" height="8" fill="#c8c800"/><rect x="684" y="442" width="18" height="16" fill="#cfb700"/><rect x="684" y="458" width="18" height="8" fill="#c8c800"/><rect x="684" y="466" width="18" height="8" fill="#b9c300"/><rect x="684" y="474" width="18" height="8" fill="#a4bb00"/><rect x="684" y="482" width="18" height="8" fill="#7aac00"/><rect x="684" y="490" width="18" height="8" fill="#5aa000"/><rect x="684" y="498" width="18" height="8" fill="#4e9c00"/><rect x="684" y="506" width="18" height="8" fill="#439800"/><rect x="684" y="514" width="18" height="8" fill="#2d9000"/><rect x="684" y="522" width="18" height="8" fill="#228c00"/><rect x="684" y="530" width="18" height="8" fill="#288e00"/><rect x="684" y="538" width="18" height="8" fill="#1d8a00"/><rect x="684" y="546" width="18" height="48" fill="#128600"/><rect x="684" y="594" width="18" height="32" fill="#1d8a00"/><rect x="684" y="626" width="18" height="8" fill="#288e00"/><rect x="684" y="634" width="18" height="8" fill="#349200"/><rect x="684" y="642" width="18" height="8" fill="#2d9000"/><rect x="684" y="650" width="18" height="8" fill="#489a00"/><rect x="684" y="658" width="18" height="8" fill="#65a400"/><rect x="684" y="666" width="18" height="8" fill="#7aac00"/><rect x="684" y="674" width="18" height="8" fill="#8fb300"/><rect x="684" y="682" width="18" height="8" fill="#a4bb00"/><rect x="684" y="690" width="18" height="8" fill="#aebf00"/><rect x="684" y="698" width="18" height="8" fill="#a4bb00"/><rect x="684" y="706" width="18" height="8" fill="#65a400"/><rect x="684" y="714" width="18" height="8" fill="#168800"/><rect x="684" y="722" width="18" height="8" fill="#005c34"/><rect x="684" y="730" width="18" height="8" fill="#002f6f"/><rect x="684" y="738" width="18" height="8" fill="#000989"/><rect x="684" y="746" width="18" height="8" fill="#000090"/><rect x="684" y="754" width="18" height="8" fill="#04008c"/><rect x="684" y="762" width="18" height="8" fill="#070089"/><rect x="684" y="770" width="18" height="8" fill="#12007e"/><rect x="684" y="778" width="18" height="8" fill="#170079"/><rect x="684" y="786" width="18" height="8" fill="#1b0075"/><rect x="684" y="794" width="18" height="8" fill="#1f0071"/><rect x="684" y="802" width="18" height="8" fill="#22006e"/><rect x="684" y="810" width="18" height="8" fill="#26006a"/><rect x="702" y="170" width="18" height="96" fill="#0e000f"/><rect x="702" y="266" width="18" height="8" fill="#16007a"/><rect x="702" y="274" width="18" height="16" fill="#15007b"/><rect x="702" y="290" width="18" height="8" fill="#14007c"/><rect x="702" y="298" width="18" height="16" fill="#13007d"/><rect x="702" y="314" width="18" height="8" fill="#12007e"/><rect x="702" y="322" width="18" height="16" fill="#11007f"/><rect x="702" y="338" width="18" height="8" fill="#100080"/><rect x="702" y="346" width="18" height="8" fill="#0f0081"/><rect x="702" y="354" width="18" height="8" fill="#001c7c"/><rect x="702" y="362" width="18" height="8" fill="#004653"/><rect x="702" y="370" width="18" height="8" fill="#0b8400"/><rect x="702" y="378" width="18" height="8" fill="#4e9c00"/><rect x="702" y="386" width="18" height="8" fill="#8fb300"/><rect x="702" y="394" width="18" height="8" fill="#b9c300"/><rect x="702" y="402" width="18" height="8" fill="#cfb700"/><rect x="702" y="410" width="18" height="24" fill="#d3af00"/><rect x="702" y="434" width="18" height="8" fill="#ccc000"/><rect x="702" y="442" width="18" height="8" fill="#aebf00"/><rect x="702" y="450" width="18" height="8" fill="#8fb300"/><rect x="702" y="458" width="18" height="8" fill="#70a800"/><rect x="702" y="466" width="18" height="8" fill="#4e9c00"/><rect x="702" y="474" width="18" height="8" fill="#389400"/><rect x="702" y="482" width="18" height="8" fill="#228c00"/><rect x="702" y="490" width="18" height="8" fill="#128600"/><rect x="702" y="498" width="18" height="8" fill="#108600"/><rect x="702" y="506" width="18" height="8" fill="#0d8500"/><rect x="702" y="514" width="18" height="8" fill="#0b8400"/><rect x="702" y="522" width="18" height="8" fill="#008000"/><rect x="702" y="530" width="18" height="48" fill="#007215"/><rect x="702" y="578" width="18" height="16" fill="#00790a"/><rect x="702" y="594" width="18" height="8" fill="#008000"/><rect x="702" y="602" width="18" height="8" fill="#0b8400"/><rect x="702" y="610" width="18" height="8" fill="#168800"/><rect x="702" y="618" width="18" height="8" fill="#228c00"/><rect x="702" y="626" width="18" height="8" fill="#389400"/><rect x="702" y="634" width="18" height="8" fill="#4e9c00"/><rect x="702" y="642" width="18" height="8" fill="#65a400"/><rect x="702" y="650" width="18" height="8" fill="#7fad00"/><rect x="702" y="658" width="18" height="8" fill="#85b000"/><rect x="702" y="666" width="18" height="8" fill="#7aac00"/><rect x="702" y="674" width="18" height="8" fill="#65a400"/><rect x="702" y="682" width="18" height="8" fill="#228c00"/><rect x="702" y="690" width="18" height="8" fill="#00632a"/><rect x="702" y="698" width="18" height="8" fill="#003868"/><rect x="702" y="706" width="18" height="8" fill="#000989"/><rect x="702" y="714" width="18" height="8" fill="#04008c"/><rect x="702" y="722" width="18" height="8" fill="#070089"/><rect x="702" y="730" width="18" height="8" fill="#0b0085"/><rect x="702" y="738" width="18" height="8" fill="#0f0081"/><rect x="702" y="746" width="18" height="8" fill="#12007e"/><rect x="702" y="754" width="18" height="8" fill="#16007a"/><rect x="702" y="762" width="18" height="8" fill="#190077"/><rect x="702" y="770" width="18" height="8" fill="#24006c"/><rect x="702" y="778" width="18" height="40" fill="#26006a"/><rect x="720" y="170" width="18" height="64" fill="#0e000f"/><rect x="720" y="234" width="18" height="72" fill="#1d0073"/><rect x="720" y="306" width="18" height="8" fill="#0f0081"/><rect x="720" y="314" width="18" height="8" fill="#000989"/><rect x="720" y="322" width="18" height="8" fill="#004653"/><rect x="720" y="330" width="18" height="8" fill="#048200"/><rect x="720" y="338" width="18" height="8" fill="#4e9c00"/><rect x="720" y="346" width="18" height="8" fill="#a4bb00"/><rect x="720" y="354" width="18" height="8" fill="#d3af00"/><rect x="720" y="362" width="18" height="8" fill="#de9600"/><rect x="720" y="370" width="18" height="24" fill="#d77c00"/><rect x="720" y="394" width="18" height="8" fill="#da8900"/><rect x="720" y="402" width="18" height="8" fill="#d7a700"/><rect x="720" y="410" width="18" height="8" fill="#ccc000"/><rect x="720" y="418" width="18" height="8" fill="#aebf00"/><rect x="720" y="426" width="18" height="8" fill="#85b000"/><rect x="720" y="434" width="18" height="8" fill="#70a800"/><rect x="720" y="442" width="18" height="8" fill="#4e9c00"/><rect x="720" y="450" width="18" height="8" fill="#389400"/><rect x="720" y="458" width="18" height="8" fill="#228c00"/><rect x="720" y="466" width="18" height="8" fill="#168800"/><rect x="720" y="474" width="18" height="72" fill="#0b8400"/><rect x="720" y="546" width="18" height="8" fill="#168800"/><rect x="720" y="554" width="18" height="8" fill="#228c00"/><rect x="720" y="562" width="18" height="8" fill="#2d9000"/><rect x="720" y="570" width="18" height="8" fill="#439800"/><rect x="720" y="578" width="18" height="8" fill="#5aa000"/><rect x="720" y="586" width="18" height="8" fill="#65a400"/><rect x="720" y="594" width="18" height="8" fill="#70a800"/><rect x="720" y="602" width="18" height="8" fill="#7aac00"/><rect x="720" y="610" width="18" height="8" fill="#8fb300"/><rect x="720" y="618" width="18" height="16" fill="#9ab700"/><rect x="720" y="634" width="18" height="8" fill="#85b000"/><rect x="720" y="642" width="18" height="8" fill="#70a800"/><rect x="720" y="650" width="18" height="8" fill="#168800"/><rect x="720" y="658" width="18" height="8" fill="#003f5e"/><rect x="720" y="666" width="18" height="8" fill="#001383"/><rect x="720" y="674" width="18" height="8" fill="#04008c"/><rect x="720" y="682" width="18" height="8" fill="#070089"/><rect x="720" y="690" width="18" height="8" fill="#0f0081"/><rect x="720" y="698" width="18" height="8" fill="#12007e"/><rect x="720" y="706" width="18" height="8" fill="#16007a"/><rect x="720" y="714" width="18" height="8" fill="#190077"/><rect x="720" y="722" width="18" height="8" fill="#1d0073"/><rect x="720" y="730" width="18" height="8" fill="#21006f"/><rect x="720" y="738" width="18" height="8" fill="#24006c"/><rect x="720" y="746" width="18" height="8" fill="#25006b"/><rect x="720" y="754" width="18" height="8" fill="#26006a"/><rect x="720" y="762" width="18" height="8" fill="#270069"/><rect x="720" y="770" width="18" height="8" fill="#290067"/><rect x="720" y="778" width="18" height="8" fill="#2b0065"/><rect x="720" y="786" width="18" height="8" fill="#2e0062"/><rect x="720" y="794" width="18" height="8" fill="#300060"/><rect x="720" y="802" width="18" height="16" fill="#030003"/><rect x="738" y="170" width="18" height="40" fill="#0e000f"/><rect x="738" y="210" width="18" height="64" fill="#24006c"/><rect x="738" y="274" width="18" height="8" fill="#16007a"/><rect x="738" y="282" width="18" height="8" fill="#000090"/><rect x="738" y="290" width="18" height="8" fill="#002f6f"/><rect x="738" y="298" width="18" height="8" fill="#00632a"/><rect x="738" y="306" width="18" height="8" fill="#2d9000"/><rect x="738" y="314" width="18" height="8" fill="#a4bb00"/><rect x="738" y="322" width="18" height="8" fill="#d3af00"/><rect x="738" y="330" width="18" height="8" fill="#de9600"/><rect x="738" y="338" width="18" height="8" fill="#d36f00"/><rect x="738" y="346" width="18" height="8" fill="#d26b00"/><rect x="738" y="354" width="18" height="8" fill="#d16600"/><rect x="738" y="362" width="18" height="8" fill="#cf6200"/><rect x="738" y="370" width="18" height="8" fill="#da8900"/><rect x="738" y="378" width="18" height="8" fill="#d7a700"/><rect x="738" y="386" width="18" height="8" fill="#ccc000"/><rect x="738" y="394" width="18" height="8" fill="#aebf00"/><rect x="738" y="402" width="18" height="8" fill="#8fb300"/><rect x="738" y="410" width="18" height="8" fill="#70a800"/><rect x="738" y="418" width="18" height="8" fill="#4e9c00"/><rect x="738" y="426" width="18" height="8" fill="#389400"/><rect x="738" y="434" width="18" height="8" fill="#2d9000"/><rect x="738" y="442" width="18" height="16" fill="#228c00"/><rect x="738" y="458" width="18" height="24" fill="#168800"/><rect x="738" y="482" width="18" height="8" fill="#248d00"/><rect x="738" y="490" width="18" height="16" fill="#3a9500"/><rect x="738" y="506" width="18" height="8" fill="#459900"/><rect x="738" y="514" width="18" height="8" fill="#519d00"/><rect x="738" y="522" width="18" height="8" fill="#5ca100"/><rect x="738" y="530" width="18" height="8" fill="#72a900"/><rect x="738" y="538" width="18" height="8" fill="#91b400"/><rect x="738" y="546" width="18" height="8" fill="#a4bb00"/><rect x="738" y="554" width="18" height="8" fill="#b9c300"/><rect x="738" y="562" width="18" height="8" fill="#cfb700"/><rect x="738" y="570" width="18" height="16" fill="#d3af00"/><rect x="738" y="586" width="18" height="8" fill="#ccc000"/><rect x="738" y="594" width="18" height="8" fill="#aebf00"/><rect x="738" y="602" width="18" height="8" fill="#70a800"/><rect x="738" y="610" width="18" height="8" fill="#2d9000"/><rect x="738" y="618" width="18" height="8" fill="#006a1f"/><rect x="738" y="626" width="18" height="8" fill="#003868"/><rect x="738" y="634" width="18" height="8" fill="#000989"/><rect x="738" y="642" width="18" height="8" fill="#04008c"/><rect x="738" y="650" width="18" height="8" fill="#0b0085"/><rect x="738" y="658" width="18" height="8" fill="#16007a"/><rect x="738" y="666" width="18" height="8" fill="#1d0073"/><rect x="738" y="674" width="18" height="8" fill="#21006f"/><rect x="738" y="682" width="18" height="8" fill="#24006c"/><rect x="738" y="690" width="18" height="8" fill="#280068"/><rect x="738" y="698" width="18" height="8" fill="#300060"/><rect x="738" y="706" width="18" height="8" fill="#380058"/><rect x="738" y="714" width="18" height="8" fill="#3a0056"/><rect x="738" y="722" width="18" height="8" fill="#3d0053"/><rect x="738" y="730" width="18" height="8" fill="#3f0051"/><rect x="738" y="738" width="18" height="8" fill="#40004f"/><rect x="738" y="746" width="18" height="8" fill="#40004d"/><rect x="738" y="754" width="18" height="8" fill="#40004b"/><rect x="738" y="762" width="18" height="8" fill="#400049"/><rect x="738" y="770" width="18" height="48" fill="#030003"/><rect x="756" y="170" width="18" height="24" fill="#0e000f"/><rect x="756" y="194" width="18" height="64" fill="#300060"/><rect x="756" y="258" width="18" height="8" fill="#1d0073"/><rect x="756" y="266" width="18" height="8" fill="#0f0081"/><rect x="756" y="274" width="18" height="8" fill="#000989"/><rect x="756" y="282" width="18" height="8" fill="#004e49"/><rect x="756" y="290" width="18" height="8" fill="#168800"/><rect x="756" y="298" width="18" height="8" fill="#85b000"/><rect x="756" y="306" width="18" height="8" fill="#b9c300"/><rect x="756" y="314" width="18" height="8" fill="#d3af00"/><rect x="756" y="322" width="18" height="8" fill="#da9e00"/><rect x="756" y="330" width="18" height="16" fill="#de9600"/><rect x="756" y="346" width="18" height="8" fill="#d7a700"/><rect x="756" y="354" width="18" height="8" fill="#c8c800"/><rect x="756" y="362" width="18" height="8" fill="#aebf00"/><rect x="756" y="370" width="18" height="8" fill="#85b000"/><rect x="756" y="378" width="18" height="8" fill="#70a800"/><rect x="756" y="386" width="18" height="8" fill="#4e9c00"/><rect x="756" y="394" width="18" height="8" fill="#389400"/><rect x="756" y="402" width="18" height="8" fill="#2d9000"/><rect x="756" y="410" width="18" height="8" fill="#228c00"/><rect x="756" y="418" width="18" height="8" fill="#208b00"/><rect x="756" y="426" width="18" height="8" fill="#1e8b00"/><rect x="756" y="434" width="18" height="8" fill="#1c8a00"/><rect x="756" y="442" width="18" height="8" fill="#1a8900"/><rect x="756" y="450" width="18" height="8" fill="#188900"/><rect x="756" y="458" width="18" height="8" fill="#168800"/><rect x="756" y="466" width="18" height="8" fill="#228c00"/><rect x="756" y="474" width="18" height="8" fill="#3c9600"/><rect x="756" y="482" width="18" height="8" fill="#489a00"/><rect x="756" y="490" width="18" height="8" fill="#63a300"/><rect x="756" y="498" width="18" height="8" fill="#89b100"/><rect x="756" y="506" width="18" height="8" fill="#a8bc00"/><rect x="756" y="514" width="18" height="8" fill="#b9c300"/><rect x="756" y="522" width="18" height="8" fill="#d3af00"/><rect x="756" y="530" width="18" height="8" fill="#da9e00"/><rect x="756" y="538" width="18" height="16" fill="#da8900"/><rect x="756" y="554" width="18" height="8" fill="#da9e00"/><rect x="756" y="562" width="18" height="8" fill="#cfb700"/><rect x="756" y="570" width="18" height="8" fill="#a4bb00"/><rect x="756" y="578" width="18" height="8" fill="#5aa000"/><rect x="756" y="586" width="18" height="8" fill="#0b8400"/><rect x="756" y="594" width="18" height="8" fill="#005c34"/><rect x="756" y="602" width="18" height="8" fill="#002575"/><rect x="756" y="610" width="18" height="8" fill="#000090"/><rect x="756" y="618" width="18" height="8" fill="#0b0085"/><rect x="756" y="626" width="18" height="8" fill="#16007a"/><rect x="756" y="634" width="18" height="8" fill="#1d0073"/><rect x="756" y="642" width="18" height="8" fill="#21006f"/><rect x="756" y="650" width="18" height="8" fill="#26006a"/><rect x="756" y="658" width="18" height="8" fill="#300060"/><rect x="756" y="666" width="18" height="8" fill="#380058"/><rect x="756" y="674" width="18" height="8" fill="#400050"/><rect x="756" y="682" width="18" height="8" fill="#400049"/><rect x="756" y="690" width="18" height="8" fill="#400042"/><rect x="756" y="698" width="18" height="8" fill="#3c003e"/><rect x="756" y="706" width="18" height="8" fill="#3b003c"/><rect x="756" y="714" width="18" height="8" fill="#39003b"/><rect x="756" y="722" width="18" height="8" fill="#370039"/><rect x="756" y="730" width="18" height="8" fill="#350037"/><rect x="756" y="738" width="18" height="80" fill="#030003"/><rect x="774" y="170" width="18" height="8" fill="#0e000f"/><rect x="774" y="178" width="18" height="72" fill="#400042"/><rect x="774" y="250" width="18" height="8" fill="#400049"/><rect x="774" y="258" width="18" height="8" fill="#24006c"/><rect x="774" y="266" width="18" height="8" fill="#16007a"/><rect x="774" y="274" width="18" height="8" fill="#000090"/><rect x="774" y="282" width="18" height="8" fill="#00553e"/><rect x="774" y="290" width="18" height="8" fill="#0b8400"/><rect x="774" y="298" width="18" height="8" fill="#439800"/><rect x="774" y="306" width="18" height="8" fill="#65a400"/><rect x="774" y="314" width="18" height="24" fill="#7aac00"/><rect x="774" y="338" width="18" height="8" fill="#70a800"/><rect x="774" y="346" width="18" height="8" fill="#5aa000"/><rect x="774" y="354" width="18" height="8" fill="#439800"/><rect x="774" y="362" width="18" height="8" fill="#2d9000"/><rect x="774" y="370" width="18" height="8" fill="#168800"/><rect x="774" y="378" width="18" height="8" fill="#0b8400"/><rect x="774" y="386" width="18" height="8" fill="#008000"/><rect x="774" y="394" width="18" height="8" fill="#00790a"/><rect x="774" y="402" width="18" height="8" fill="#007215"/><rect x="774" y="410" width="18" height="32" fill="#00632a"/><rect x="774" y="442" width="18" height="16" fill="#006a1f"/><rect x="774" y="458" width="18" height="8" fill="#00790a"/><rect x="774" y="466" width="18" height="8" fill="#0b8400"/><rect x="774" y="474" width="18" height="8" fill="#319200"/><rect x="774" y="482" width="18" height="8" fill="#489a00"/><rect x="774" y="490" width="18" height="8" fill="#69a600"/><rect x="774" y="498" width="18" height="8" fill="#93b500"/><rect x="774" y="506" width="18" height="8" fill="#bfc500"/><rect x="774" y="514" width="18" height="8" fill="#d3af00"/><rect x="774" y="522" width="18" height="8" fill="#da9e00"/><rect x="774" y="530" width="18" height="8" fill="#d7a700"/><rect x="774" y="538" width="18" height="8" fill="#cfb700"/><rect x="774" y="546" width="18" height="8" fill="#a4bb00"/><rect x="774" y="554" width="18" height="8" fill="#65a400"/><rect x="774" y="562" width="18" height="8" fill="#0b8400"/><rect x="774" y="570" width="18" height="8" fill="#00553e"/><rect x="774" y="578" width="18" height="8" fill="#002575"/><rect x="774" y="586" width="18" height="8" fill="#04008c"/><rect x="774" y="594" width="18" height="8" fill="#12007e"/><rect x="774" y="602" width="18" height="8" fill="#21006f"/><rect x="774" y="610" width="18" height="8" fill="#300060"/><rect x="774" y="618" width="18" height="8" fill="#400050"/><rect x="774" y="626" width="18" height="8" fill="#400042"/><rect x="774" y="634" width="18" height="8" fill="#39003b"/><rect x="774" y="642" width="18" height="8" fill="#2e0030"/><rect x="774" y="650" width="18" height="8" fill="#250026"/><rect x="774" y="658" width="18" height="8" fill="#240025"/><rect x="774" y="666" width="18" height="8" fill="#220023"/><rect x="774" y="674" width="18" height="8" fill="#210022"/><rect x="774" y="682" width="18" height="8" fill="#200021"/><rect x="774" y="690" width="18" height="8" fill="#1f0020"/><rect x="774" y="698" width="18" height="8" fill="#1e001f"/><rect x="774" y="706" width="18" height="8" fill="#1c001d"/><rect x="774" y="714" width="18" height="104" fill="#030003"/></g><rect x="144" y="169.8" width="648" height="648" fill="none" stroke="#000" stroke-width="1"/><path d="M144.0 817.8v-12 M144.0 169.8v12 M162.0 817.8v-6 M162.0 169.8v6 M180.0 817.8v-6 M180.0 169.8v6 M198.0 817.8v-6 M198.0 169.8v6 M216.0 817.8v-6 M216.0 169.8v6 M234.0 817.8v-12 M234.0 169.8v12 M252.0 817.8v-6 M252.0 169.8v6 M270.0 817.8v-6 M270.0 169.8v6 M288.0 817.8v-6 M288.0 169.8v6 M306.0 817.8v-6 M306.0 169.8v6 M324.0 817.8v-12 M324.0 169.8v12 M342.0 817.8v-6 M342.0 169.8v6 M360.0 817.8v-6 M360.0 169.8v6 M378.0 817.8v-6 M378.0 169.8v6 M396.0 817.8v-6 M396.0 169.8v6 M414.0 817.8v-12 M414.0 169.8v12 M432.0 817.8v-6 M432.0 169.8v6 M450.0 817.8v-6 M450.0 169.8v6 M468.0 817.8v-6 M468.0 169.8v6 M486.0 817.8v-6 M486.0 169.8v6 M504.0 817.8v-12 M504.0 169.8v12 M522.0 817.8v-6 M522.0 169.8v6 M540.0 817.8v-6 M540.0 169.8v6 M558.0 817.8v-6 M558.0 169.8v6 M576.0 817.8v-6 M576.0 169.8v6 M594.0 817.8v-12 M594.0 169.8v12 M612.0 817.8v-6 M612.0 169.8v6 M630.0 817.8v-6 M630.0 169.8v6 M648.0 817.8v-6 M648.0 169.8v6 M666.0 817.8v-6 M666.0 169.8v6 M684.0 817.8v-12 M684.0 169.8v12 M702.0 817.8v-6 M702.0 169.8v6 M720.0 817.8v-6 M720.0 169.8v6 M738.0 817.8v-6 M738.0 169.8v6 M756.0 817.8v-6 M756.0 169.8v6 M774.0 817.8v-12 M774.0 169.8v12 M792.0 817.8v-6 M792.0 169.8v6 M144 817.8h12 M792 817.8h-12 M144 737.8h6 M792 737.8h-6 M144 657.8h12 M792 657.8h-12 M144 577.8h6 M792 577.8h-6 M144 497.8h12 M792 497.8h-12 M144 417.8h6 M792 417.8h-6 M144 337.8h12 M792 337.8h-12 M144 257.8h6 M792 257.8h-6 M144 177.8h12 M792 177.8h-12" stroke="#000" stroke-width="1.2" stroke-opacity="0.85" fill="none"/><rect x="540" y="33.5" width="324" height="14" fill="url(#cb)" stroke="#000" stroke-width="1"/><path d="M594.0 33v3 M594.0 48v-3 M648.0 33v3 M648.0 48v-3 M702.0 33v3 M702.0 48v-3 M756.0 33v3 M756.0 48v-3 M810.0 33v3 M810.0 48v-3" stroke="#000" stroke-width="1" fill="none"/><g font-family="'Liberation Serif', serif" font-size="30" fill="#000"><text x="702" y="19.5" text-anchor="middle">TEC</text><text x="540.0" y="82" text-anchor="middle">0</text><text x="594.0" y="82" text-anchor="middle">10</text><text x="648.0" y="82" text-anchor="middle">20</text><text x="702.0" y="82" text-anchor="middle">30</text><text x="756.0" y="82" text-anchor="middle">40</text><text x="810.0" y="82" text-anchor="middle">50</text><text x="864.0" y="82" text-anchor="middle">60</text><text x="471.8" y="155.5" text-anchor="middle" letter-spacing="0.04" xml:space="preserve">PBf20160826  UT: 19.25  mjd: 57626</text><text x="129.7" y="825.2" text-anchor="end">-40</text><text x="129.7" y="665.1" text-anchor="end">-20</text><text x="129.7" y="505.0" text-anchor="end">0</text><text x="129.7" y="344.9" text-anchor="end">20</text><text x="129.7" y="184.8" text-anchor="end">40</text><text x="144.0" y="852" text-anchor="middle">0</text><text x="234.0" y="852" text-anchor="middle">50</text><text x="324.0" y="852" text-anchor="middle">100</text><text x="414.0" y="852" text-anchor="middle">150</text><text x="504.0" y="852" text-anchor="middle">200</text><text x="594.0" y="852" text-anchor="middle">250</text><text x="684.0" y="852" text-anchor="middle">300</text><text x="774.0" y="852" text-anchor="middle">350</text><text x="0" y="417.7">Latitude</text><text x="468.2" y="892.7" text-anchor="middle">Longitude</text></g></svg></body></html>
